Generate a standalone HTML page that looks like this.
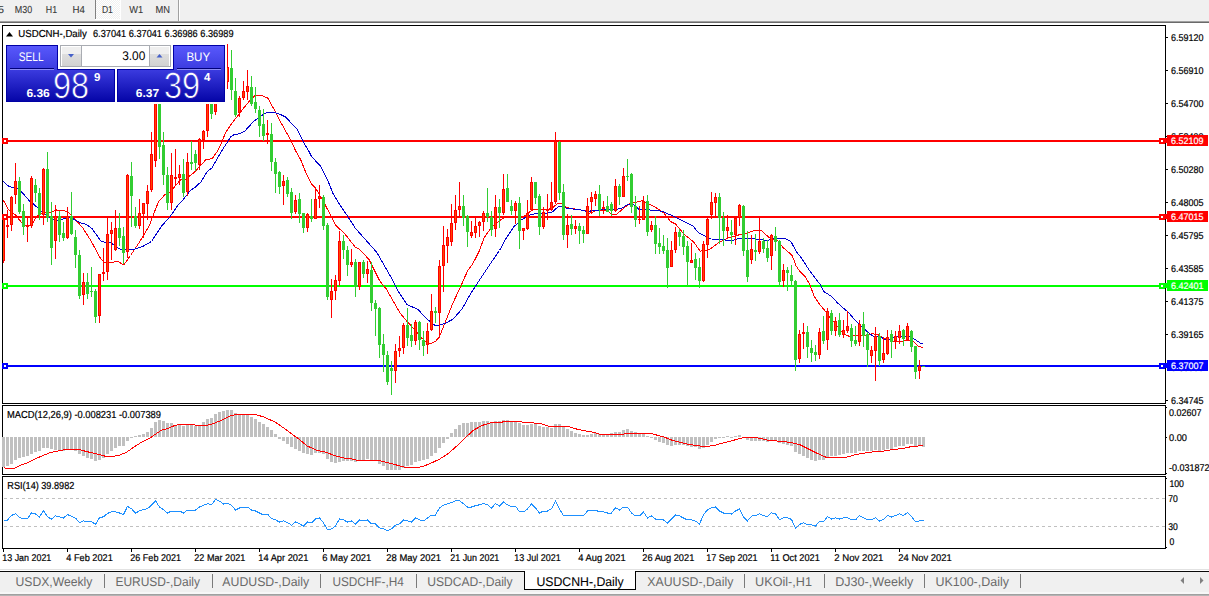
<!DOCTYPE html>
<html><head><meta charset="utf-8"><title>USDCNH-,Daily</title>
<style>html,body{margin:0;padding:0;background:#f0f0f0;overflow:hidden}svg text{white-space:pre}</style></head>
<body>
<svg width="1209" height="596" viewBox="0 0 1209 596" font-family="'Liberation Sans', sans-serif" style="display:block;text-rendering:geometricPrecision">
<defs>
<linearGradient id="gbtn" x1="0" y1="0" x2="0" y2="1"><stop offset="0" stop-color="#5858fc"/><stop offset="1" stop-color="#3c3ce0"/></linearGradient>
<linearGradient id="gprice" gradientUnits="userSpaceOnUse" x1="0" y1="69" x2="0" y2="102"><stop offset="0" stop-color="#3c3ce0"/><stop offset="1" stop-color="#0404a6"/></linearGradient>
<linearGradient id="gspin" x1="0" y1="0" x2="0" y2="1"><stop offset="0" stop-color="#dedede"/><stop offset="1" stop-color="#d2d2d2"/></linearGradient>
<pattern id="dith" width="2" height="2" patternUnits="userSpaceOnUse"><rect width="2" height="2" fill="#f0f0f0"/><rect width="1" height="1" fill="#fff"/><rect x="1" y="1" width="1" height="1" fill="#fff"/></pattern>
</defs>
<rect x="0" y="0" width="1209" height="596" fill="#f0f0f0"/>
<rect x="0" y="23" width="1209" height="547" fill="#fff"/>
<g shape-rendering="crispEdges">
<rect x="0" y="21" width="1209" height="1" fill="#a0a0a0"/>
<rect x="0" y="22" width="1209" height="1" fill="#6a6a6a"/>
<rect x="95" y="0" width="1" height="19" fill="#808080"/>
<rect x="96" y="0" width="24" height="19" fill="url(#dith)"/>
<rect x="120" y="0" width="1" height="20" fill="#fff"/>
<rect x="95" y="19" width="26" height="1" fill="#fff"/>
<rect x="178" y="0" width="1" height="21" fill="#a0a0a0"/>
<rect x="179" y="0" width="1" height="21" fill="#fff"/>
</g>
<text x="-2" y="13" font-size="10.2" fill="#383838" textLength="6" lengthAdjust="spacingAndGlyphs" stroke="#383838" stroke-width="0.1">5</text>
<text x="14.8" y="13" font-size="10.2" fill="#383838" textLength="17.4" lengthAdjust="spacingAndGlyphs" stroke="#383838" stroke-width="0.1">M30</text>
<text x="45.8" y="13" font-size="10.2" fill="#383838" textLength="11.3" lengthAdjust="spacingAndGlyphs" stroke="#383838" stroke-width="0.1">H1</text>
<text x="72.5" y="13" font-size="10.2" fill="#383838" textLength="12.4" lengthAdjust="spacingAndGlyphs" stroke="#383838" stroke-width="0.1">H4</text>
<text x="101.9" y="13" font-size="10.2" fill="#383838" textLength="11.0" lengthAdjust="spacingAndGlyphs" stroke="#383838" stroke-width="0.1">D1</text>
<text x="129.2" y="13" font-size="10.2" fill="#383838" textLength="13.9" lengthAdjust="spacingAndGlyphs" stroke="#383838" stroke-width="0.1">W1</text>
<text x="155.5" y="13" font-size="10.2" fill="#383838" textLength="14.5" lengthAdjust="spacingAndGlyphs" stroke="#383838" stroke-width="0.1">MN</text>
<g shape-rendering="crispEdges">
<rect x="2" y="25" width="1164" height="1" fill="#000"/>
<rect x="2" y="403" width="1164" height="1" fill="#000"/>
<rect x="2" y="25" width="1" height="379" fill="#000"/>
<rect x="1165" y="25" width="1" height="379" fill="#000"/>
<rect x="2" y="405" width="1164" height="1" fill="#000"/>
<rect x="2" y="474" width="1164" height="1" fill="#000"/>
<rect x="2" y="405" width="1" height="70" fill="#000"/>
<rect x="1165" y="405" width="1" height="70" fill="#000"/>
<rect x="2" y="476" width="1164" height="1" fill="#000"/>
<rect x="2" y="548" width="1164" height="1" fill="#000"/>
<rect x="2" y="476" width="1" height="73" fill="#000"/>
<rect x="1165" y="476" width="1" height="73" fill="#000"/>
<rect x="1166" y="37" width="2" height="1" fill="#000"/>
<rect x="1166" y="70" width="2" height="1" fill="#000"/>
<rect x="1166" y="103" width="2" height="1" fill="#000"/>
<rect x="1166" y="136" width="2" height="1" fill="#000"/>
<rect x="1166" y="169" width="2" height="1" fill="#000"/>
<rect x="1166" y="202" width="2" height="1" fill="#000"/>
<rect x="1166" y="235" width="2" height="1" fill="#000"/>
<rect x="1166" y="268" width="2" height="1" fill="#000"/>
<rect x="1166" y="301" width="2" height="1" fill="#000"/>
<rect x="1166" y="334" width="2" height="1" fill="#000"/>
<rect x="1166" y="367" width="2" height="1" fill="#000"/>
<rect x="1166" y="400" width="2" height="1" fill="#000"/>
<rect x="1166" y="407" width="1" height="1" fill="#000"/>
<rect x="1166" y="437" width="1" height="1" fill="#000"/>
<rect x="1166" y="473" width="1" height="1" fill="#000"/>
<rect x="1166" y="478" width="1" height="1" fill="#000"/>
<rect x="1166" y="547" width="1" height="1" fill="#000"/>
<rect x="3" y="549" width="1" height="3" fill="#000"/>
<rect x="67" y="549" width="1" height="3" fill="#000"/>
<rect x="131" y="549" width="1" height="3" fill="#000"/>
<rect x="195" y="549" width="1" height="3" fill="#000"/>
<rect x="259" y="549" width="1" height="3" fill="#000"/>
<rect x="323" y="549" width="1" height="3" fill="#000"/>
<rect x="387" y="549" width="1" height="3" fill="#000"/>
<rect x="451" y="549" width="1" height="3" fill="#000"/>
<rect x="515" y="549" width="1" height="3" fill="#000"/>
<rect x="579" y="549" width="1" height="3" fill="#000"/>
<rect x="643" y="549" width="1" height="3" fill="#000"/>
<rect x="707" y="549" width="1" height="3" fill="#000"/>
<rect x="771" y="549" width="1" height="3" fill="#000"/>
<rect x="835" y="549" width="1" height="3" fill="#000"/>
<rect x="899" y="549" width="1" height="3" fill="#000"/>
<rect x="4" y="498" width="3" height="1" fill="#c0c0c0"/>
<rect x="10" y="498" width="3" height="1" fill="#c0c0c0"/>
<rect x="16" y="498" width="3" height="1" fill="#c0c0c0"/>
<rect x="22" y="498" width="3" height="1" fill="#c0c0c0"/>
<rect x="28" y="498" width="3" height="1" fill="#c0c0c0"/>
<rect x="34" y="498" width="3" height="1" fill="#c0c0c0"/>
<rect x="40" y="498" width="3" height="1" fill="#c0c0c0"/>
<rect x="46" y="498" width="3" height="1" fill="#c0c0c0"/>
<rect x="52" y="498" width="3" height="1" fill="#c0c0c0"/>
<rect x="58" y="498" width="3" height="1" fill="#c0c0c0"/>
<rect x="64" y="498" width="3" height="1" fill="#c0c0c0"/>
<rect x="70" y="498" width="3" height="1" fill="#c0c0c0"/>
<rect x="76" y="498" width="3" height="1" fill="#c0c0c0"/>
<rect x="82" y="498" width="3" height="1" fill="#c0c0c0"/>
<rect x="88" y="498" width="3" height="1" fill="#c0c0c0"/>
<rect x="94" y="498" width="3" height="1" fill="#c0c0c0"/>
<rect x="100" y="498" width="3" height="1" fill="#c0c0c0"/>
<rect x="106" y="498" width="3" height="1" fill="#c0c0c0"/>
<rect x="112" y="498" width="3" height="1" fill="#c0c0c0"/>
<rect x="118" y="498" width="3" height="1" fill="#c0c0c0"/>
<rect x="124" y="498" width="3" height="1" fill="#c0c0c0"/>
<rect x="130" y="498" width="3" height="1" fill="#c0c0c0"/>
<rect x="136" y="498" width="3" height="1" fill="#c0c0c0"/>
<rect x="142" y="498" width="3" height="1" fill="#c0c0c0"/>
<rect x="148" y="498" width="3" height="1" fill="#c0c0c0"/>
<rect x="154" y="498" width="3" height="1" fill="#c0c0c0"/>
<rect x="160" y="498" width="3" height="1" fill="#c0c0c0"/>
<rect x="166" y="498" width="3" height="1" fill="#c0c0c0"/>
<rect x="172" y="498" width="3" height="1" fill="#c0c0c0"/>
<rect x="178" y="498" width="3" height="1" fill="#c0c0c0"/>
<rect x="184" y="498" width="3" height="1" fill="#c0c0c0"/>
<rect x="190" y="498" width="3" height="1" fill="#c0c0c0"/>
<rect x="196" y="498" width="3" height="1" fill="#c0c0c0"/>
<rect x="202" y="498" width="3" height="1" fill="#c0c0c0"/>
<rect x="208" y="498" width="3" height="1" fill="#c0c0c0"/>
<rect x="214" y="498" width="3" height="1" fill="#c0c0c0"/>
<rect x="220" y="498" width="3" height="1" fill="#c0c0c0"/>
<rect x="226" y="498" width="3" height="1" fill="#c0c0c0"/>
<rect x="232" y="498" width="3" height="1" fill="#c0c0c0"/>
<rect x="238" y="498" width="3" height="1" fill="#c0c0c0"/>
<rect x="244" y="498" width="3" height="1" fill="#c0c0c0"/>
<rect x="250" y="498" width="3" height="1" fill="#c0c0c0"/>
<rect x="256" y="498" width="3" height="1" fill="#c0c0c0"/>
<rect x="262" y="498" width="3" height="1" fill="#c0c0c0"/>
<rect x="268" y="498" width="3" height="1" fill="#c0c0c0"/>
<rect x="274" y="498" width="3" height="1" fill="#c0c0c0"/>
<rect x="280" y="498" width="3" height="1" fill="#c0c0c0"/>
<rect x="286" y="498" width="3" height="1" fill="#c0c0c0"/>
<rect x="292" y="498" width="3" height="1" fill="#c0c0c0"/>
<rect x="298" y="498" width="3" height="1" fill="#c0c0c0"/>
<rect x="304" y="498" width="3" height="1" fill="#c0c0c0"/>
<rect x="310" y="498" width="3" height="1" fill="#c0c0c0"/>
<rect x="316" y="498" width="3" height="1" fill="#c0c0c0"/>
<rect x="322" y="498" width="3" height="1" fill="#c0c0c0"/>
<rect x="328" y="498" width="3" height="1" fill="#c0c0c0"/>
<rect x="334" y="498" width="3" height="1" fill="#c0c0c0"/>
<rect x="340" y="498" width="3" height="1" fill="#c0c0c0"/>
<rect x="346" y="498" width="3" height="1" fill="#c0c0c0"/>
<rect x="352" y="498" width="3" height="1" fill="#c0c0c0"/>
<rect x="358" y="498" width="3" height="1" fill="#c0c0c0"/>
<rect x="364" y="498" width="3" height="1" fill="#c0c0c0"/>
<rect x="370" y="498" width="3" height="1" fill="#c0c0c0"/>
<rect x="376" y="498" width="3" height="1" fill="#c0c0c0"/>
<rect x="382" y="498" width="3" height="1" fill="#c0c0c0"/>
<rect x="388" y="498" width="3" height="1" fill="#c0c0c0"/>
<rect x="394" y="498" width="3" height="1" fill="#c0c0c0"/>
<rect x="400" y="498" width="3" height="1" fill="#c0c0c0"/>
<rect x="406" y="498" width="3" height="1" fill="#c0c0c0"/>
<rect x="412" y="498" width="3" height="1" fill="#c0c0c0"/>
<rect x="418" y="498" width="3" height="1" fill="#c0c0c0"/>
<rect x="424" y="498" width="3" height="1" fill="#c0c0c0"/>
<rect x="430" y="498" width="3" height="1" fill="#c0c0c0"/>
<rect x="436" y="498" width="3" height="1" fill="#c0c0c0"/>
<rect x="442" y="498" width="3" height="1" fill="#c0c0c0"/>
<rect x="448" y="498" width="3" height="1" fill="#c0c0c0"/>
<rect x="454" y="498" width="3" height="1" fill="#c0c0c0"/>
<rect x="460" y="498" width="3" height="1" fill="#c0c0c0"/>
<rect x="466" y="498" width="3" height="1" fill="#c0c0c0"/>
<rect x="472" y="498" width="3" height="1" fill="#c0c0c0"/>
<rect x="478" y="498" width="3" height="1" fill="#c0c0c0"/>
<rect x="484" y="498" width="3" height="1" fill="#c0c0c0"/>
<rect x="490" y="498" width="3" height="1" fill="#c0c0c0"/>
<rect x="496" y="498" width="3" height="1" fill="#c0c0c0"/>
<rect x="502" y="498" width="3" height="1" fill="#c0c0c0"/>
<rect x="508" y="498" width="3" height="1" fill="#c0c0c0"/>
<rect x="514" y="498" width="3" height="1" fill="#c0c0c0"/>
<rect x="520" y="498" width="3" height="1" fill="#c0c0c0"/>
<rect x="526" y="498" width="3" height="1" fill="#c0c0c0"/>
<rect x="532" y="498" width="3" height="1" fill="#c0c0c0"/>
<rect x="538" y="498" width="3" height="1" fill="#c0c0c0"/>
<rect x="544" y="498" width="3" height="1" fill="#c0c0c0"/>
<rect x="550" y="498" width="3" height="1" fill="#c0c0c0"/>
<rect x="556" y="498" width="3" height="1" fill="#c0c0c0"/>
<rect x="562" y="498" width="3" height="1" fill="#c0c0c0"/>
<rect x="568" y="498" width="3" height="1" fill="#c0c0c0"/>
<rect x="574" y="498" width="3" height="1" fill="#c0c0c0"/>
<rect x="580" y="498" width="3" height="1" fill="#c0c0c0"/>
<rect x="586" y="498" width="3" height="1" fill="#c0c0c0"/>
<rect x="592" y="498" width="3" height="1" fill="#c0c0c0"/>
<rect x="598" y="498" width="3" height="1" fill="#c0c0c0"/>
<rect x="604" y="498" width="3" height="1" fill="#c0c0c0"/>
<rect x="610" y="498" width="3" height="1" fill="#c0c0c0"/>
<rect x="616" y="498" width="3" height="1" fill="#c0c0c0"/>
<rect x="622" y="498" width="3" height="1" fill="#c0c0c0"/>
<rect x="628" y="498" width="3" height="1" fill="#c0c0c0"/>
<rect x="634" y="498" width="3" height="1" fill="#c0c0c0"/>
<rect x="640" y="498" width="3" height="1" fill="#c0c0c0"/>
<rect x="646" y="498" width="3" height="1" fill="#c0c0c0"/>
<rect x="652" y="498" width="3" height="1" fill="#c0c0c0"/>
<rect x="658" y="498" width="3" height="1" fill="#c0c0c0"/>
<rect x="664" y="498" width="3" height="1" fill="#c0c0c0"/>
<rect x="670" y="498" width="3" height="1" fill="#c0c0c0"/>
<rect x="676" y="498" width="3" height="1" fill="#c0c0c0"/>
<rect x="682" y="498" width="3" height="1" fill="#c0c0c0"/>
<rect x="688" y="498" width="3" height="1" fill="#c0c0c0"/>
<rect x="694" y="498" width="3" height="1" fill="#c0c0c0"/>
<rect x="700" y="498" width="3" height="1" fill="#c0c0c0"/>
<rect x="706" y="498" width="3" height="1" fill="#c0c0c0"/>
<rect x="712" y="498" width="3" height="1" fill="#c0c0c0"/>
<rect x="718" y="498" width="3" height="1" fill="#c0c0c0"/>
<rect x="724" y="498" width="3" height="1" fill="#c0c0c0"/>
<rect x="730" y="498" width="3" height="1" fill="#c0c0c0"/>
<rect x="736" y="498" width="3" height="1" fill="#c0c0c0"/>
<rect x="742" y="498" width="3" height="1" fill="#c0c0c0"/>
<rect x="748" y="498" width="3" height="1" fill="#c0c0c0"/>
<rect x="754" y="498" width="3" height="1" fill="#c0c0c0"/>
<rect x="760" y="498" width="3" height="1" fill="#c0c0c0"/>
<rect x="766" y="498" width="3" height="1" fill="#c0c0c0"/>
<rect x="772" y="498" width="3" height="1" fill="#c0c0c0"/>
<rect x="778" y="498" width="3" height="1" fill="#c0c0c0"/>
<rect x="784" y="498" width="3" height="1" fill="#c0c0c0"/>
<rect x="790" y="498" width="3" height="1" fill="#c0c0c0"/>
<rect x="796" y="498" width="3" height="1" fill="#c0c0c0"/>
<rect x="802" y="498" width="3" height="1" fill="#c0c0c0"/>
<rect x="808" y="498" width="3" height="1" fill="#c0c0c0"/>
<rect x="814" y="498" width="3" height="1" fill="#c0c0c0"/>
<rect x="820" y="498" width="3" height="1" fill="#c0c0c0"/>
<rect x="826" y="498" width="3" height="1" fill="#c0c0c0"/>
<rect x="832" y="498" width="3" height="1" fill="#c0c0c0"/>
<rect x="838" y="498" width="3" height="1" fill="#c0c0c0"/>
<rect x="844" y="498" width="3" height="1" fill="#c0c0c0"/>
<rect x="850" y="498" width="3" height="1" fill="#c0c0c0"/>
<rect x="856" y="498" width="3" height="1" fill="#c0c0c0"/>
<rect x="862" y="498" width="3" height="1" fill="#c0c0c0"/>
<rect x="868" y="498" width="3" height="1" fill="#c0c0c0"/>
<rect x="874" y="498" width="3" height="1" fill="#c0c0c0"/>
<rect x="880" y="498" width="3" height="1" fill="#c0c0c0"/>
<rect x="886" y="498" width="3" height="1" fill="#c0c0c0"/>
<rect x="892" y="498" width="3" height="1" fill="#c0c0c0"/>
<rect x="898" y="498" width="3" height="1" fill="#c0c0c0"/>
<rect x="904" y="498" width="3" height="1" fill="#c0c0c0"/>
<rect x="910" y="498" width="3" height="1" fill="#c0c0c0"/>
<rect x="916" y="498" width="3" height="1" fill="#c0c0c0"/>
<rect x="922" y="498" width="3" height="1" fill="#c0c0c0"/>
<rect x="928" y="498" width="3" height="1" fill="#c0c0c0"/>
<rect x="934" y="498" width="3" height="1" fill="#c0c0c0"/>
<rect x="940" y="498" width="3" height="1" fill="#c0c0c0"/>
<rect x="946" y="498" width="3" height="1" fill="#c0c0c0"/>
<rect x="952" y="498" width="3" height="1" fill="#c0c0c0"/>
<rect x="958" y="498" width="3" height="1" fill="#c0c0c0"/>
<rect x="964" y="498" width="3" height="1" fill="#c0c0c0"/>
<rect x="970" y="498" width="3" height="1" fill="#c0c0c0"/>
<rect x="976" y="498" width="3" height="1" fill="#c0c0c0"/>
<rect x="982" y="498" width="3" height="1" fill="#c0c0c0"/>
<rect x="988" y="498" width="3" height="1" fill="#c0c0c0"/>
<rect x="994" y="498" width="3" height="1" fill="#c0c0c0"/>
<rect x="1000" y="498" width="3" height="1" fill="#c0c0c0"/>
<rect x="1006" y="498" width="3" height="1" fill="#c0c0c0"/>
<rect x="1012" y="498" width="3" height="1" fill="#c0c0c0"/>
<rect x="1018" y="498" width="3" height="1" fill="#c0c0c0"/>
<rect x="1024" y="498" width="3" height="1" fill="#c0c0c0"/>
<rect x="1030" y="498" width="3" height="1" fill="#c0c0c0"/>
<rect x="1036" y="498" width="3" height="1" fill="#c0c0c0"/>
<rect x="1042" y="498" width="3" height="1" fill="#c0c0c0"/>
<rect x="1048" y="498" width="3" height="1" fill="#c0c0c0"/>
<rect x="1054" y="498" width="3" height="1" fill="#c0c0c0"/>
<rect x="1060" y="498" width="3" height="1" fill="#c0c0c0"/>
<rect x="1066" y="498" width="3" height="1" fill="#c0c0c0"/>
<rect x="1072" y="498" width="3" height="1" fill="#c0c0c0"/>
<rect x="1078" y="498" width="3" height="1" fill="#c0c0c0"/>
<rect x="1084" y="498" width="3" height="1" fill="#c0c0c0"/>
<rect x="1090" y="498" width="3" height="1" fill="#c0c0c0"/>
<rect x="1096" y="498" width="3" height="1" fill="#c0c0c0"/>
<rect x="1102" y="498" width="3" height="1" fill="#c0c0c0"/>
<rect x="1108" y="498" width="3" height="1" fill="#c0c0c0"/>
<rect x="1114" y="498" width="3" height="1" fill="#c0c0c0"/>
<rect x="1120" y="498" width="3" height="1" fill="#c0c0c0"/>
<rect x="1126" y="498" width="3" height="1" fill="#c0c0c0"/>
<rect x="1132" y="498" width="3" height="1" fill="#c0c0c0"/>
<rect x="1138" y="498" width="3" height="1" fill="#c0c0c0"/>
<rect x="1144" y="498" width="3" height="1" fill="#c0c0c0"/>
<rect x="1150" y="498" width="3" height="1" fill="#c0c0c0"/>
<rect x="1156" y="498" width="3" height="1" fill="#c0c0c0"/>
<rect x="1162" y="498" width="3" height="1" fill="#c0c0c0"/>
<rect x="4" y="526" width="3" height="1" fill="#c0c0c0"/>
<rect x="10" y="526" width="3" height="1" fill="#c0c0c0"/>
<rect x="16" y="526" width="3" height="1" fill="#c0c0c0"/>
<rect x="22" y="526" width="3" height="1" fill="#c0c0c0"/>
<rect x="28" y="526" width="3" height="1" fill="#c0c0c0"/>
<rect x="34" y="526" width="3" height="1" fill="#c0c0c0"/>
<rect x="40" y="526" width="3" height="1" fill="#c0c0c0"/>
<rect x="46" y="526" width="3" height="1" fill="#c0c0c0"/>
<rect x="52" y="526" width="3" height="1" fill="#c0c0c0"/>
<rect x="58" y="526" width="3" height="1" fill="#c0c0c0"/>
<rect x="64" y="526" width="3" height="1" fill="#c0c0c0"/>
<rect x="70" y="526" width="3" height="1" fill="#c0c0c0"/>
<rect x="76" y="526" width="3" height="1" fill="#c0c0c0"/>
<rect x="82" y="526" width="3" height="1" fill="#c0c0c0"/>
<rect x="88" y="526" width="3" height="1" fill="#c0c0c0"/>
<rect x="94" y="526" width="3" height="1" fill="#c0c0c0"/>
<rect x="100" y="526" width="3" height="1" fill="#c0c0c0"/>
<rect x="106" y="526" width="3" height="1" fill="#c0c0c0"/>
<rect x="112" y="526" width="3" height="1" fill="#c0c0c0"/>
<rect x="118" y="526" width="3" height="1" fill="#c0c0c0"/>
<rect x="124" y="526" width="3" height="1" fill="#c0c0c0"/>
<rect x="130" y="526" width="3" height="1" fill="#c0c0c0"/>
<rect x="136" y="526" width="3" height="1" fill="#c0c0c0"/>
<rect x="142" y="526" width="3" height="1" fill="#c0c0c0"/>
<rect x="148" y="526" width="3" height="1" fill="#c0c0c0"/>
<rect x="154" y="526" width="3" height="1" fill="#c0c0c0"/>
<rect x="160" y="526" width="3" height="1" fill="#c0c0c0"/>
<rect x="166" y="526" width="3" height="1" fill="#c0c0c0"/>
<rect x="172" y="526" width="3" height="1" fill="#c0c0c0"/>
<rect x="178" y="526" width="3" height="1" fill="#c0c0c0"/>
<rect x="184" y="526" width="3" height="1" fill="#c0c0c0"/>
<rect x="190" y="526" width="3" height="1" fill="#c0c0c0"/>
<rect x="196" y="526" width="3" height="1" fill="#c0c0c0"/>
<rect x="202" y="526" width="3" height="1" fill="#c0c0c0"/>
<rect x="208" y="526" width="3" height="1" fill="#c0c0c0"/>
<rect x="214" y="526" width="3" height="1" fill="#c0c0c0"/>
<rect x="220" y="526" width="3" height="1" fill="#c0c0c0"/>
<rect x="226" y="526" width="3" height="1" fill="#c0c0c0"/>
<rect x="232" y="526" width="3" height="1" fill="#c0c0c0"/>
<rect x="238" y="526" width="3" height="1" fill="#c0c0c0"/>
<rect x="244" y="526" width="3" height="1" fill="#c0c0c0"/>
<rect x="250" y="526" width="3" height="1" fill="#c0c0c0"/>
<rect x="256" y="526" width="3" height="1" fill="#c0c0c0"/>
<rect x="262" y="526" width="3" height="1" fill="#c0c0c0"/>
<rect x="268" y="526" width="3" height="1" fill="#c0c0c0"/>
<rect x="274" y="526" width="3" height="1" fill="#c0c0c0"/>
<rect x="280" y="526" width="3" height="1" fill="#c0c0c0"/>
<rect x="286" y="526" width="3" height="1" fill="#c0c0c0"/>
<rect x="292" y="526" width="3" height="1" fill="#c0c0c0"/>
<rect x="298" y="526" width="3" height="1" fill="#c0c0c0"/>
<rect x="304" y="526" width="3" height="1" fill="#c0c0c0"/>
<rect x="310" y="526" width="3" height="1" fill="#c0c0c0"/>
<rect x="316" y="526" width="3" height="1" fill="#c0c0c0"/>
<rect x="322" y="526" width="3" height="1" fill="#c0c0c0"/>
<rect x="328" y="526" width="3" height="1" fill="#c0c0c0"/>
<rect x="334" y="526" width="3" height="1" fill="#c0c0c0"/>
<rect x="340" y="526" width="3" height="1" fill="#c0c0c0"/>
<rect x="346" y="526" width="3" height="1" fill="#c0c0c0"/>
<rect x="352" y="526" width="3" height="1" fill="#c0c0c0"/>
<rect x="358" y="526" width="3" height="1" fill="#c0c0c0"/>
<rect x="364" y="526" width="3" height="1" fill="#c0c0c0"/>
<rect x="370" y="526" width="3" height="1" fill="#c0c0c0"/>
<rect x="376" y="526" width="3" height="1" fill="#c0c0c0"/>
<rect x="382" y="526" width="3" height="1" fill="#c0c0c0"/>
<rect x="388" y="526" width="3" height="1" fill="#c0c0c0"/>
<rect x="394" y="526" width="3" height="1" fill="#c0c0c0"/>
<rect x="400" y="526" width="3" height="1" fill="#c0c0c0"/>
<rect x="406" y="526" width="3" height="1" fill="#c0c0c0"/>
<rect x="412" y="526" width="3" height="1" fill="#c0c0c0"/>
<rect x="418" y="526" width="3" height="1" fill="#c0c0c0"/>
<rect x="424" y="526" width="3" height="1" fill="#c0c0c0"/>
<rect x="430" y="526" width="3" height="1" fill="#c0c0c0"/>
<rect x="436" y="526" width="3" height="1" fill="#c0c0c0"/>
<rect x="442" y="526" width="3" height="1" fill="#c0c0c0"/>
<rect x="448" y="526" width="3" height="1" fill="#c0c0c0"/>
<rect x="454" y="526" width="3" height="1" fill="#c0c0c0"/>
<rect x="460" y="526" width="3" height="1" fill="#c0c0c0"/>
<rect x="466" y="526" width="3" height="1" fill="#c0c0c0"/>
<rect x="472" y="526" width="3" height="1" fill="#c0c0c0"/>
<rect x="478" y="526" width="3" height="1" fill="#c0c0c0"/>
<rect x="484" y="526" width="3" height="1" fill="#c0c0c0"/>
<rect x="490" y="526" width="3" height="1" fill="#c0c0c0"/>
<rect x="496" y="526" width="3" height="1" fill="#c0c0c0"/>
<rect x="502" y="526" width="3" height="1" fill="#c0c0c0"/>
<rect x="508" y="526" width="3" height="1" fill="#c0c0c0"/>
<rect x="514" y="526" width="3" height="1" fill="#c0c0c0"/>
<rect x="520" y="526" width="3" height="1" fill="#c0c0c0"/>
<rect x="526" y="526" width="3" height="1" fill="#c0c0c0"/>
<rect x="532" y="526" width="3" height="1" fill="#c0c0c0"/>
<rect x="538" y="526" width="3" height="1" fill="#c0c0c0"/>
<rect x="544" y="526" width="3" height="1" fill="#c0c0c0"/>
<rect x="550" y="526" width="3" height="1" fill="#c0c0c0"/>
<rect x="556" y="526" width="3" height="1" fill="#c0c0c0"/>
<rect x="562" y="526" width="3" height="1" fill="#c0c0c0"/>
<rect x="568" y="526" width="3" height="1" fill="#c0c0c0"/>
<rect x="574" y="526" width="3" height="1" fill="#c0c0c0"/>
<rect x="580" y="526" width="3" height="1" fill="#c0c0c0"/>
<rect x="586" y="526" width="3" height="1" fill="#c0c0c0"/>
<rect x="592" y="526" width="3" height="1" fill="#c0c0c0"/>
<rect x="598" y="526" width="3" height="1" fill="#c0c0c0"/>
<rect x="604" y="526" width="3" height="1" fill="#c0c0c0"/>
<rect x="610" y="526" width="3" height="1" fill="#c0c0c0"/>
<rect x="616" y="526" width="3" height="1" fill="#c0c0c0"/>
<rect x="622" y="526" width="3" height="1" fill="#c0c0c0"/>
<rect x="628" y="526" width="3" height="1" fill="#c0c0c0"/>
<rect x="634" y="526" width="3" height="1" fill="#c0c0c0"/>
<rect x="640" y="526" width="3" height="1" fill="#c0c0c0"/>
<rect x="646" y="526" width="3" height="1" fill="#c0c0c0"/>
<rect x="652" y="526" width="3" height="1" fill="#c0c0c0"/>
<rect x="658" y="526" width="3" height="1" fill="#c0c0c0"/>
<rect x="664" y="526" width="3" height="1" fill="#c0c0c0"/>
<rect x="670" y="526" width="3" height="1" fill="#c0c0c0"/>
<rect x="676" y="526" width="3" height="1" fill="#c0c0c0"/>
<rect x="682" y="526" width="3" height="1" fill="#c0c0c0"/>
<rect x="688" y="526" width="3" height="1" fill="#c0c0c0"/>
<rect x="694" y="526" width="3" height="1" fill="#c0c0c0"/>
<rect x="700" y="526" width="3" height="1" fill="#c0c0c0"/>
<rect x="706" y="526" width="3" height="1" fill="#c0c0c0"/>
<rect x="712" y="526" width="3" height="1" fill="#c0c0c0"/>
<rect x="718" y="526" width="3" height="1" fill="#c0c0c0"/>
<rect x="724" y="526" width="3" height="1" fill="#c0c0c0"/>
<rect x="730" y="526" width="3" height="1" fill="#c0c0c0"/>
<rect x="736" y="526" width="3" height="1" fill="#c0c0c0"/>
<rect x="742" y="526" width="3" height="1" fill="#c0c0c0"/>
<rect x="748" y="526" width="3" height="1" fill="#c0c0c0"/>
<rect x="754" y="526" width="3" height="1" fill="#c0c0c0"/>
<rect x="760" y="526" width="3" height="1" fill="#c0c0c0"/>
<rect x="766" y="526" width="3" height="1" fill="#c0c0c0"/>
<rect x="772" y="526" width="3" height="1" fill="#c0c0c0"/>
<rect x="778" y="526" width="3" height="1" fill="#c0c0c0"/>
<rect x="784" y="526" width="3" height="1" fill="#c0c0c0"/>
<rect x="790" y="526" width="3" height="1" fill="#c0c0c0"/>
<rect x="796" y="526" width="3" height="1" fill="#c0c0c0"/>
<rect x="802" y="526" width="3" height="1" fill="#c0c0c0"/>
<rect x="808" y="526" width="3" height="1" fill="#c0c0c0"/>
<rect x="814" y="526" width="3" height="1" fill="#c0c0c0"/>
<rect x="820" y="526" width="3" height="1" fill="#c0c0c0"/>
<rect x="826" y="526" width="3" height="1" fill="#c0c0c0"/>
<rect x="832" y="526" width="3" height="1" fill="#c0c0c0"/>
<rect x="838" y="526" width="3" height="1" fill="#c0c0c0"/>
<rect x="844" y="526" width="3" height="1" fill="#c0c0c0"/>
<rect x="850" y="526" width="3" height="1" fill="#c0c0c0"/>
<rect x="856" y="526" width="3" height="1" fill="#c0c0c0"/>
<rect x="862" y="526" width="3" height="1" fill="#c0c0c0"/>
<rect x="868" y="526" width="3" height="1" fill="#c0c0c0"/>
<rect x="874" y="526" width="3" height="1" fill="#c0c0c0"/>
<rect x="880" y="526" width="3" height="1" fill="#c0c0c0"/>
<rect x="886" y="526" width="3" height="1" fill="#c0c0c0"/>
<rect x="892" y="526" width="3" height="1" fill="#c0c0c0"/>
<rect x="898" y="526" width="3" height="1" fill="#c0c0c0"/>
<rect x="904" y="526" width="3" height="1" fill="#c0c0c0"/>
<rect x="910" y="526" width="3" height="1" fill="#c0c0c0"/>
<rect x="916" y="526" width="3" height="1" fill="#c0c0c0"/>
<rect x="922" y="526" width="3" height="1" fill="#c0c0c0"/>
<rect x="928" y="526" width="3" height="1" fill="#c0c0c0"/>
<rect x="934" y="526" width="3" height="1" fill="#c0c0c0"/>
<rect x="940" y="526" width="3" height="1" fill="#c0c0c0"/>
<rect x="946" y="526" width="3" height="1" fill="#c0c0c0"/>
<rect x="952" y="526" width="3" height="1" fill="#c0c0c0"/>
<rect x="958" y="526" width="3" height="1" fill="#c0c0c0"/>
<rect x="964" y="526" width="3" height="1" fill="#c0c0c0"/>
<rect x="970" y="526" width="3" height="1" fill="#c0c0c0"/>
<rect x="976" y="526" width="3" height="1" fill="#c0c0c0"/>
<rect x="982" y="526" width="3" height="1" fill="#c0c0c0"/>
<rect x="988" y="526" width="3" height="1" fill="#c0c0c0"/>
<rect x="994" y="526" width="3" height="1" fill="#c0c0c0"/>
<rect x="1000" y="526" width="3" height="1" fill="#c0c0c0"/>
<rect x="1006" y="526" width="3" height="1" fill="#c0c0c0"/>
<rect x="1012" y="526" width="3" height="1" fill="#c0c0c0"/>
<rect x="1018" y="526" width="3" height="1" fill="#c0c0c0"/>
<rect x="1024" y="526" width="3" height="1" fill="#c0c0c0"/>
<rect x="1030" y="526" width="3" height="1" fill="#c0c0c0"/>
<rect x="1036" y="526" width="3" height="1" fill="#c0c0c0"/>
<rect x="1042" y="526" width="3" height="1" fill="#c0c0c0"/>
<rect x="1048" y="526" width="3" height="1" fill="#c0c0c0"/>
<rect x="1054" y="526" width="3" height="1" fill="#c0c0c0"/>
<rect x="1060" y="526" width="3" height="1" fill="#c0c0c0"/>
<rect x="1066" y="526" width="3" height="1" fill="#c0c0c0"/>
<rect x="1072" y="526" width="3" height="1" fill="#c0c0c0"/>
<rect x="1078" y="526" width="3" height="1" fill="#c0c0c0"/>
<rect x="1084" y="526" width="3" height="1" fill="#c0c0c0"/>
<rect x="1090" y="526" width="3" height="1" fill="#c0c0c0"/>
<rect x="1096" y="526" width="3" height="1" fill="#c0c0c0"/>
<rect x="1102" y="526" width="3" height="1" fill="#c0c0c0"/>
<rect x="1108" y="526" width="3" height="1" fill="#c0c0c0"/>
<rect x="1114" y="526" width="3" height="1" fill="#c0c0c0"/>
<rect x="1120" y="526" width="3" height="1" fill="#c0c0c0"/>
<rect x="1126" y="526" width="3" height="1" fill="#c0c0c0"/>
<rect x="1132" y="526" width="3" height="1" fill="#c0c0c0"/>
<rect x="1138" y="526" width="3" height="1" fill="#c0c0c0"/>
<rect x="1144" y="526" width="3" height="1" fill="#c0c0c0"/>
<rect x="1150" y="526" width="3" height="1" fill="#c0c0c0"/>
<rect x="1156" y="526" width="3" height="1" fill="#c0c0c0"/>
<rect x="1162" y="526" width="3" height="1" fill="#c0c0c0"/>
<rect x="3" y="140" width="1162" height="2" fill="#ff0000"/>
<rect x="2" y="138" width="6" height="6" fill="#ff0000"/>
<rect x="4" y="140" width="2" height="2" fill="#fff"/>
<rect x="1159" y="138" width="6" height="6" fill="#ff0000"/>
<rect x="1161" y="140" width="2" height="2" fill="#fff"/>
<rect x="3" y="216" width="1162" height="2" fill="#ff0000"/>
<rect x="2" y="214" width="6" height="6" fill="#ff0000"/>
<rect x="4" y="216" width="2" height="2" fill="#fff"/>
<rect x="1159" y="214" width="6" height="6" fill="#ff0000"/>
<rect x="1161" y="216" width="2" height="2" fill="#fff"/>
<rect x="3" y="285" width="1162" height="2" fill="#00ff00"/>
<rect x="2" y="283" width="6" height="6" fill="#00ff00"/>
<rect x="4" y="285" width="2" height="2" fill="#fff"/>
<rect x="1159" y="283" width="6" height="6" fill="#00ff00"/>
<rect x="1161" y="285" width="2" height="2" fill="#fff"/>
<rect x="3" y="365" width="1162" height="2" fill="#0000ff"/>
<rect x="2" y="363" width="6" height="6" fill="#0000ff"/>
<rect x="4" y="365" width="2" height="2" fill="#fff"/>
<rect x="1159" y="363" width="6" height="6" fill="#0000ff"/>
<rect x="1161" y="365" width="2" height="2" fill="#fff"/>
</g>
<clipPath id="cmain"><rect x="3" y="26" width="1162" height="377"/></clipPath>
<g clip-path="url(#cmain)">
<polyline points="3.5,200.5 8.1,209.2 15.5,215.0 22.3,223.5 28.2,226.8 33.2,222.5 36.5,216.5 42.5,212.5 50.5,212.5 56.5,210.0 64.5,210.8 68.5,212.8 74.5,218.5 82.5,227.5 91.1,241.0 100.5,258.5 104.5,262.5 110.5,262.5 117.9,261.5 123.8,264.9 130.5,255.5 140.5,240.5 149.5,225.5 151.5,219.5 158.2,202.5 159.3,200.5 164.8,194.9 167.8,194.4 172.9,188.8 180.9,179.3 186.0,179.3 190.0,175.7 195.0,171.7 201.1,164.7 206.1,159.6 212.1,158.6 217.2,151.6 221.2,143.5 225.5,132.8 231.5,123.8 238.6,114.7 245.6,105.6 250.7,99.6 255.7,95.1 260.7,95.1 267.8,98.1 270.8,103.6 274.8,110.7 279.9,120.7 284.9,129.8 290.0,138.9 293.0,144.9 295.5,150.5 300.8,159.9 306.1,173.3 311.5,184.1 315.5,188.1 319.5,194.8 324.9,204.2 330.3,214.9 335.0,224.3 340.4,229.7 344.8,233.9 355.5,247.3 359.5,249.4 369.0,259.4 374.3,270.2 379.7,280.9 386.4,289.0 393.7,302.0 399.8,312.7 407.1,321.5 413.9,328.8 421.9,338.2 428.6,344.3 435.3,341.6 439.4,336.9 444.7,323.5 452.8,303.3 460.2,287.6 464.8,277.0 467.8,270.6 472.9,263.6 479.5,250.5 484.2,237.6 490.9,228.2 494.9,224.2 500.3,220.2 505.7,216.8 524.5,216.1 529.8,211.8 533.9,209.7 548.5,209.5 554.0,206.7 557.3,203.5 562.0,203.8 566.1,207.5 578.2,209.5 586.2,210.8 588.5,213.5 597.9,210.1 607.3,210.8 612.0,214.8 616.1,214.8 622.1,209.5 628.8,204.1 636.9,202.0 642.2,200.7 649.0,204.1 655.7,207.5 663.7,212.8 670.5,221.5 675.8,224.2 681.2,230.9 686.5,236.3 693.3,241.6 700.2,251.1 709.0,249.8 718.5,242.8 728.0,238.1 737.1,235.3 746.5,233.3 754.5,230.6 761.3,230.6 769.5,237.9 777.5,240.6 782.8,247.3 792.2,255.5 796.2,266.1 800.5,272.2 804.7,275.9 809.5,283.9 814.1,296.0 819.5,304.1 826.1,312.1 830.2,318.2 835.5,323.5 839.5,329.5 844.9,334.3 849.0,336.3 859.5,335.6 866.5,335.6 871.8,333.6 878.5,334.9 882.5,337.6 887.9,339.0 894.5,341.6 901.3,341.6 908.0,340.3 913.5,341.6 917.5,345.7 923.5,348.1" fill="none" stroke="#ff0000" stroke-width="1" shape-rendering="crispEdges"/>
<polyline points="3.5,181.5 8.9,186.5 14.8,188.2 19.0,189.0 25.7,196.5 29.9,201.5 34.1,204.5 39.9,210.0 44.1,213.9 50.8,218.5 58.5,220.5 64.5,218.5 71.0,217.5 79.5,222.5 86.1,224.3 91.9,228.5 101.2,241.5 111.2,243.1 119.5,249.0 133.0,249.8 142.5,246.5 151.5,241.5 161.5,226.1 170.0,216.8 178.5,204.3 182.9,199.9 190.0,190.9 195.0,187.3 201.1,181.8 207.1,171.7 212.1,167.7 217.2,158.6 221.2,151.6 227.2,142.5 230.5,136.9 234.6,134.3 239.6,133.8 244.6,131.3 248.7,126.8 253.7,121.2 258.7,117.7 263.8,114.2 267.8,112.2 273.8,112.2 279.9,114.2 285.9,117.2 291.0,122.8 297.0,128.8 300.0,134.8 303.0,140.9 305.1,144.9 308.5,150.5 311.5,156.5 320.9,166.6 327.6,180.0 333.0,193.5 338.5,202.8 347.7,216.3 355.5,228.5 366.3,240.6 377.0,252.7 385.1,266.8 394.5,283.6 397.7,290.6 407.1,304.7 417.9,309.4 427.3,319.4 436.0,326.1 444.7,323.5 452.8,319.4 462.2,308.7 470.5,293.9 480.5,278.5 490.5,263.5 499.5,250.5 505.7,239.0 513.7,226.9 521.8,219.5 529.8,215.1 535.2,213.7 545.9,213.7 552.5,211.8 558.0,207.0 562.7,206.5 567.5,208.5 578.2,209.5 587.2,211.4 597.9,210.1 611.5,209.4 620.8,208.8 627.5,204.7 633.5,204.7 639.5,209.7 653.0,210.1 662.5,211.4 673.1,216.1 682.5,220.8 693.3,226.2 698.5,232.9 706.7,236.9 710.7,239.0 722.8,239.2 728.2,241.0 733.5,240.3 738.5,238.6 755.9,239.0 766.7,240.6 774.7,238.6 785.5,238.6 790.8,241.3 796.2,251.5 800.5,256.7 809.5,270.5 815.5,278.6 820.8,285.3 823.5,291.3 830.8,296.0 838.2,303.5 844.9,309.5 849.0,312.8 854.3,319.5 859.7,324.9 866.5,330.9 873.1,336.3 879.8,336.3 884.5,339.2 890.5,339.2 895.9,336.9 909.5,336.9 914.7,339.2 920.1,343.0 923.5,344.1" fill="none" stroke="#0000cd" stroke-width="1" shape-rendering="crispEdges"/>
<g shape-rendering="crispEdges">
<rect x="3" y="215" width="1" height="48" fill="#ff0000"/>
<rect x="2" y="219" width="3" height="42" fill="#ff0000"/>
<rect x="3" y="220" width="1" height="40" fill="#ff4500"/>
<rect x="7" y="210" width="1" height="28" fill="#ff0000"/>
<rect x="6" y="225" width="3" height="2" fill="#ff0000"/>
<rect x="11" y="196" width="1" height="35" fill="#ff0000"/>
<rect x="10" y="197" width="3" height="28" fill="#ff0000"/>
<rect x="11" y="198" width="1" height="26" fill="#ff4500"/>
<rect x="15" y="163" width="1" height="41" fill="#ff0000"/>
<rect x="14" y="181" width="3" height="14" fill="#ff0000"/>
<rect x="15" y="182" width="1" height="12" fill="#ff4500"/>
<rect x="19" y="177" width="1" height="37" fill="#32cd32"/>
<rect x="18" y="181" width="3" height="31" fill="#32cd32"/>
<rect x="23" y="204" width="1" height="31" fill="#32cd32"/>
<rect x="22" y="211" width="3" height="16" fill="#32cd32"/>
<rect x="27" y="217" width="1" height="25" fill="#ff0000"/>
<rect x="26" y="225" width="3" height="2" fill="#ff0000"/>
<rect x="31" y="176" width="1" height="52" fill="#ff0000"/>
<rect x="30" y="178" width="3" height="48" fill="#ff0000"/>
<rect x="31" y="179" width="1" height="46" fill="#ff4500"/>
<rect x="35" y="179" width="1" height="23" fill="#32cd32"/>
<rect x="34" y="185" width="3" height="8" fill="#32cd32"/>
<rect x="39" y="188" width="1" height="32" fill="#32cd32"/>
<rect x="38" y="193" width="3" height="22" fill="#32cd32"/>
<rect x="43" y="168" width="1" height="57" fill="#ff0000"/>
<rect x="42" y="169" width="3" height="46" fill="#ff0000"/>
<rect x="43" y="170" width="1" height="44" fill="#ff4500"/>
<rect x="47" y="152" width="1" height="70" fill="#32cd32"/>
<rect x="46" y="169" width="3" height="49" fill="#32cd32"/>
<rect x="51" y="202" width="1" height="63" fill="#32cd32"/>
<rect x="50" y="216" width="3" height="32" fill="#32cd32"/>
<rect x="55" y="205" width="1" height="54" fill="#ff0000"/>
<rect x="54" y="216" width="3" height="25" fill="#ff0000"/>
<rect x="55" y="217" width="1" height="23" fill="#ff4500"/>
<rect x="59" y="211" width="1" height="31" fill="#32cd32"/>
<rect x="58" y="216" width="3" height="19" fill="#32cd32"/>
<rect x="63" y="222" width="1" height="19" fill="#32cd32"/>
<rect x="62" y="233" width="3" height="5" fill="#32cd32"/>
<rect x="67" y="207" width="1" height="32" fill="#ff0000"/>
<rect x="66" y="216" width="3" height="22" fill="#ff0000"/>
<rect x="67" y="217" width="1" height="20" fill="#ff4500"/>
<rect x="71" y="192" width="1" height="43" fill="#32cd32"/>
<rect x="70" y="216" width="3" height="18" fill="#32cd32"/>
<rect x="75" y="230" width="1" height="38" fill="#32cd32"/>
<rect x="74" y="237" width="3" height="18" fill="#32cd32"/>
<rect x="79" y="250" width="1" height="49" fill="#32cd32"/>
<rect x="78" y="255" width="3" height="41" fill="#32cd32"/>
<rect x="83" y="273" width="1" height="32" fill="#ff0000"/>
<rect x="82" y="282" width="3" height="13" fill="#ff0000"/>
<rect x="83" y="283" width="1" height="11" fill="#ff4500"/>
<rect x="87" y="273" width="1" height="26" fill="#32cd32"/>
<rect x="86" y="282" width="3" height="12" fill="#32cd32"/>
<rect x="91" y="267" width="1" height="30" fill="#32cd32"/>
<rect x="90" y="291" width="3" height="1" fill="#32cd32"/>
<rect x="95" y="289" width="1" height="34" fill="#32cd32"/>
<rect x="94" y="291" width="3" height="26" fill="#32cd32"/>
<rect x="99" y="274" width="1" height="49" fill="#ff0000"/>
<rect x="98" y="274" width="3" height="42" fill="#ff0000"/>
<rect x="99" y="275" width="1" height="40" fill="#ff4500"/>
<rect x="103" y="248" width="1" height="33" fill="#ff0000"/>
<rect x="102" y="272" width="3" height="2" fill="#ff0000"/>
<rect x="107" y="217" width="1" height="63" fill="#ff0000"/>
<rect x="106" y="234" width="3" height="38" fill="#ff0000"/>
<rect x="107" y="235" width="1" height="36" fill="#ff4500"/>
<rect x="111" y="222" width="1" height="38" fill="#ff0000"/>
<rect x="110" y="230" width="3" height="4" fill="#ff0000"/>
<rect x="111" y="231" width="1" height="2" fill="#ff4500"/>
<rect x="115" y="210" width="1" height="41" fill="#ff0000"/>
<rect x="114" y="228" width="3" height="22" fill="#ff0000"/>
<rect x="115" y="229" width="1" height="20" fill="#ff4500"/>
<rect x="119" y="213" width="1" height="33" fill="#32cd32"/>
<rect x="118" y="228" width="3" height="10" fill="#32cd32"/>
<rect x="123" y="227" width="1" height="37" fill="#32cd32"/>
<rect x="122" y="236" width="3" height="17" fill="#32cd32"/>
<rect x="127" y="174" width="1" height="84" fill="#ff0000"/>
<rect x="126" y="175" width="3" height="77" fill="#ff0000"/>
<rect x="127" y="176" width="1" height="75" fill="#ff4500"/>
<rect x="131" y="162" width="1" height="65" fill="#32cd32"/>
<rect x="130" y="176" width="3" height="20" fill="#32cd32"/>
<rect x="135" y="207" width="1" height="21" fill="#32cd32"/>
<rect x="134" y="216" width="3" height="10" fill="#32cd32"/>
<rect x="139" y="199" width="1" height="30" fill="#ff0000"/>
<rect x="138" y="213" width="3" height="13" fill="#ff0000"/>
<rect x="139" y="214" width="1" height="11" fill="#ff4500"/>
<rect x="143" y="203" width="1" height="35" fill="#ff0000"/>
<rect x="142" y="203" width="3" height="11" fill="#ff0000"/>
<rect x="143" y="204" width="1" height="9" fill="#ff4500"/>
<rect x="147" y="185" width="1" height="35" fill="#ff0000"/>
<rect x="146" y="191" width="3" height="13" fill="#ff0000"/>
<rect x="147" y="192" width="1" height="11" fill="#ff4500"/>
<rect x="151" y="132" width="1" height="60" fill="#ff0000"/>
<rect x="150" y="154" width="3" height="36" fill="#ff0000"/>
<rect x="151" y="155" width="1" height="34" fill="#ff4500"/>
<rect x="155" y="95" width="1" height="72" fill="#ff0000"/>
<rect x="154" y="96" width="3" height="65" fill="#ff0000"/>
<rect x="155" y="97" width="1" height="63" fill="#ff4500"/>
<rect x="159" y="95" width="1" height="64" fill="#32cd32"/>
<rect x="158" y="96" width="3" height="51" fill="#32cd32"/>
<rect x="163" y="132" width="1" height="53" fill="#32cd32"/>
<rect x="162" y="145" width="3" height="30" fill="#32cd32"/>
<rect x="167" y="167" width="1" height="43" fill="#32cd32"/>
<rect x="166" y="175" width="3" height="28" fill="#32cd32"/>
<rect x="171" y="153" width="1" height="57" fill="#ff0000"/>
<rect x="170" y="175" width="3" height="28" fill="#ff0000"/>
<rect x="171" y="176" width="1" height="26" fill="#ff4500"/>
<rect x="175" y="149" width="1" height="36" fill="#ff0000"/>
<rect x="174" y="177" width="3" height="2" fill="#ff0000"/>
<rect x="179" y="165" width="1" height="20" fill="#ff0000"/>
<rect x="178" y="174" width="3" height="4" fill="#ff0000"/>
<rect x="179" y="175" width="1" height="2" fill="#ff4500"/>
<rect x="183" y="159" width="1" height="38" fill="#32cd32"/>
<rect x="182" y="174" width="3" height="19" fill="#32cd32"/>
<rect x="187" y="153" width="1" height="43" fill="#ff0000"/>
<rect x="186" y="162" width="3" height="30" fill="#ff0000"/>
<rect x="187" y="163" width="1" height="28" fill="#ff4500"/>
<rect x="191" y="141" width="1" height="29" fill="#32cd32"/>
<rect x="190" y="162" width="3" height="2" fill="#32cd32"/>
<rect x="195" y="150" width="1" height="21" fill="#32cd32"/>
<rect x="194" y="154" width="3" height="9" fill="#32cd32"/>
<rect x="199" y="138" width="1" height="32" fill="#ff0000"/>
<rect x="198" y="139" width="3" height="26" fill="#ff0000"/>
<rect x="199" y="140" width="1" height="24" fill="#ff4500"/>
<rect x="203" y="130" width="1" height="19" fill="#ff0000"/>
<rect x="202" y="131" width="3" height="9" fill="#ff0000"/>
<rect x="203" y="132" width="1" height="7" fill="#ff4500"/>
<rect x="207" y="100" width="1" height="37" fill="#ff0000"/>
<rect x="206" y="101" width="3" height="30" fill="#ff0000"/>
<rect x="207" y="102" width="1" height="28" fill="#ff4500"/>
<rect x="211" y="100" width="1" height="19" fill="#32cd32"/>
<rect x="210" y="101" width="3" height="13" fill="#32cd32"/>
<rect x="215" y="100" width="1" height="15" fill="#ff0000"/>
<rect x="214" y="101" width="3" height="11" fill="#ff0000"/>
<rect x="215" y="102" width="1" height="9" fill="#ff4500"/>
<rect x="219" y="60" width="1" height="41" fill="#ff0000"/>
<rect x="218" y="62" width="3" height="38" fill="#ff0000"/>
<rect x="219" y="63" width="1" height="36" fill="#ff4500"/>
<rect x="223" y="46" width="1" height="34" fill="#ff0000"/>
<rect x="222" y="50" width="3" height="20" fill="#ff0000"/>
<rect x="223" y="51" width="1" height="18" fill="#ff4500"/>
<rect x="227" y="44" width="1" height="45" fill="#ff0000"/>
<rect x="226" y="67" width="3" height="15" fill="#ff0000"/>
<rect x="227" y="68" width="1" height="13" fill="#ff4500"/>
<rect x="231" y="50" width="1" height="50" fill="#32cd32"/>
<rect x="230" y="68" width="3" height="22" fill="#32cd32"/>
<rect x="235" y="78" width="1" height="39" fill="#32cd32"/>
<rect x="234" y="91" width="3" height="24" fill="#32cd32"/>
<rect x="239" y="96" width="1" height="21" fill="#ff0000"/>
<rect x="238" y="98" width="3" height="15" fill="#ff0000"/>
<rect x="239" y="99" width="1" height="13" fill="#ff4500"/>
<rect x="243" y="81" width="1" height="19" fill="#ff0000"/>
<rect x="242" y="91" width="3" height="7" fill="#ff0000"/>
<rect x="243" y="92" width="1" height="5" fill="#ff4500"/>
<rect x="247" y="70" width="1" height="30" fill="#ff0000"/>
<rect x="246" y="86" width="3" height="6" fill="#ff0000"/>
<rect x="247" y="87" width="1" height="4" fill="#ff4500"/>
<rect x="251" y="76" width="1" height="30" fill="#32cd32"/>
<rect x="250" y="87" width="3" height="17" fill="#32cd32"/>
<rect x="255" y="87" width="1" height="26" fill="#32cd32"/>
<rect x="254" y="102" width="3" height="7" fill="#32cd32"/>
<rect x="259" y="106" width="1" height="31" fill="#32cd32"/>
<rect x="258" y="110" width="3" height="16" fill="#32cd32"/>
<rect x="263" y="109" width="1" height="32" fill="#32cd32"/>
<rect x="262" y="124" width="3" height="12" fill="#32cd32"/>
<rect x="267" y="120" width="1" height="24" fill="#ff0000"/>
<rect x="266" y="133" width="3" height="2" fill="#ff0000"/>
<rect x="271" y="123" width="1" height="48" fill="#32cd32"/>
<rect x="270" y="134" width="3" height="28" fill="#32cd32"/>
<rect x="275" y="158" width="1" height="35" fill="#32cd32"/>
<rect x="274" y="162" width="3" height="12" fill="#32cd32"/>
<rect x="279" y="171" width="1" height="23" fill="#32cd32"/>
<rect x="278" y="172" width="3" height="15" fill="#32cd32"/>
<rect x="283" y="175" width="1" height="30" fill="#ff0000"/>
<rect x="282" y="181" width="3" height="5" fill="#ff0000"/>
<rect x="283" y="182" width="1" height="3" fill="#ff4500"/>
<rect x="287" y="177" width="1" height="20" fill="#32cd32"/>
<rect x="286" y="180" width="3" height="14" fill="#32cd32"/>
<rect x="291" y="188" width="1" height="31" fill="#32cd32"/>
<rect x="290" y="192" width="3" height="21" fill="#32cd32"/>
<rect x="295" y="195" width="1" height="19" fill="#ff0000"/>
<rect x="294" y="200" width="3" height="12" fill="#ff0000"/>
<rect x="295" y="201" width="1" height="10" fill="#ff4500"/>
<rect x="299" y="193" width="1" height="30" fill="#32cd32"/>
<rect x="298" y="199" width="3" height="15" fill="#32cd32"/>
<rect x="303" y="213" width="1" height="20" fill="#32cd32"/>
<rect x="302" y="213" width="3" height="15" fill="#32cd32"/>
<rect x="307" y="213" width="1" height="19" fill="#ff0000"/>
<rect x="306" y="214" width="3" height="14" fill="#ff0000"/>
<rect x="307" y="215" width="1" height="12" fill="#ff4500"/>
<rect x="311" y="199" width="1" height="23" fill="#32cd32"/>
<rect x="310" y="216" width="3" height="3" fill="#32cd32"/>
<rect x="315" y="187" width="1" height="32" fill="#ff0000"/>
<rect x="314" y="199" width="3" height="20" fill="#ff0000"/>
<rect x="315" y="200" width="1" height="18" fill="#ff4500"/>
<rect x="319" y="185" width="1" height="23" fill="#ff0000"/>
<rect x="318" y="196" width="3" height="3" fill="#ff0000"/>
<rect x="319" y="197" width="1" height="1" fill="#ff4500"/>
<rect x="323" y="195" width="1" height="35" fill="#32cd32"/>
<rect x="322" y="197" width="3" height="29" fill="#32cd32"/>
<rect x="327" y="223" width="1" height="77" fill="#32cd32"/>
<rect x="326" y="225" width="3" height="72" fill="#32cd32"/>
<rect x="331" y="279" width="1" height="39" fill="#ff0000"/>
<rect x="330" y="291" width="3" height="9" fill="#ff0000"/>
<rect x="331" y="292" width="1" height="7" fill="#ff4500"/>
<rect x="335" y="275" width="1" height="25" fill="#ff0000"/>
<rect x="334" y="280" width="3" height="11" fill="#ff0000"/>
<rect x="335" y="281" width="1" height="9" fill="#ff4500"/>
<rect x="339" y="231" width="1" height="55" fill="#ff0000"/>
<rect x="338" y="241" width="3" height="40" fill="#ff0000"/>
<rect x="339" y="242" width="1" height="38" fill="#ff4500"/>
<rect x="343" y="235" width="1" height="24" fill="#32cd32"/>
<rect x="342" y="241" width="3" height="9" fill="#32cd32"/>
<rect x="347" y="246" width="1" height="30" fill="#32cd32"/>
<rect x="346" y="250" width="3" height="15" fill="#32cd32"/>
<rect x="351" y="249" width="1" height="18" fill="#ff0000"/>
<rect x="350" y="262" width="3" height="3" fill="#ff0000"/>
<rect x="351" y="263" width="1" height="1" fill="#ff4500"/>
<rect x="355" y="259" width="1" height="38" fill="#32cd32"/>
<rect x="354" y="262" width="3" height="25" fill="#32cd32"/>
<rect x="359" y="262" width="1" height="28" fill="#ff0000"/>
<rect x="358" y="262" width="3" height="25" fill="#ff0000"/>
<rect x="359" y="263" width="1" height="23" fill="#ff4500"/>
<rect x="363" y="260" width="1" height="18" fill="#32cd32"/>
<rect x="362" y="262" width="3" height="12" fill="#32cd32"/>
<rect x="367" y="261" width="1" height="22" fill="#ff0000"/>
<rect x="366" y="269" width="3" height="5" fill="#ff0000"/>
<rect x="367" y="270" width="1" height="3" fill="#ff4500"/>
<rect x="371" y="262" width="1" height="49" fill="#32cd32"/>
<rect x="370" y="270" width="3" height="33" fill="#32cd32"/>
<rect x="375" y="300" width="1" height="36" fill="#32cd32"/>
<rect x="374" y="303" width="3" height="6" fill="#32cd32"/>
<rect x="379" y="307" width="1" height="51" fill="#32cd32"/>
<rect x="378" y="308" width="3" height="37" fill="#32cd32"/>
<rect x="383" y="334" width="1" height="38" fill="#32cd32"/>
<rect x="382" y="344" width="3" height="11" fill="#32cd32"/>
<rect x="387" y="351" width="1" height="34" fill="#32cd32"/>
<rect x="386" y="355" width="3" height="27" fill="#32cd32"/>
<rect x="391" y="361" width="1" height="34" fill="#32cd32"/>
<rect x="390" y="368" width="3" height="3" fill="#32cd32"/>
<rect x="395" y="344" width="1" height="39" fill="#ff0000"/>
<rect x="394" y="351" width="3" height="20" fill="#ff0000"/>
<rect x="395" y="352" width="1" height="18" fill="#ff4500"/>
<rect x="399" y="336" width="1" height="21" fill="#ff0000"/>
<rect x="398" y="348" width="3" height="3" fill="#ff0000"/>
<rect x="399" y="349" width="1" height="1" fill="#ff4500"/>
<rect x="403" y="323" width="1" height="31" fill="#ff0000"/>
<rect x="402" y="325" width="3" height="23" fill="#ff0000"/>
<rect x="403" y="326" width="1" height="21" fill="#ff4500"/>
<rect x="407" y="308" width="1" height="38" fill="#32cd32"/>
<rect x="406" y="325" width="3" height="13" fill="#32cd32"/>
<rect x="411" y="324" width="1" height="23" fill="#32cd32"/>
<rect x="410" y="335" width="3" height="6" fill="#32cd32"/>
<rect x="415" y="320" width="1" height="25" fill="#ff0000"/>
<rect x="414" y="322" width="3" height="19" fill="#ff0000"/>
<rect x="415" y="323" width="1" height="17" fill="#ff4500"/>
<rect x="419" y="321" width="1" height="29" fill="#32cd32"/>
<rect x="418" y="322" width="3" height="18" fill="#32cd32"/>
<rect x="423" y="331" width="1" height="25" fill="#32cd32"/>
<rect x="422" y="340" width="3" height="6" fill="#32cd32"/>
<rect x="427" y="323" width="1" height="31" fill="#ff0000"/>
<rect x="426" y="331" width="3" height="14" fill="#ff0000"/>
<rect x="427" y="332" width="1" height="12" fill="#ff4500"/>
<rect x="431" y="294" width="1" height="37" fill="#ff0000"/>
<rect x="430" y="311" width="3" height="19" fill="#ff0000"/>
<rect x="431" y="312" width="1" height="17" fill="#ff4500"/>
<rect x="435" y="307" width="1" height="16" fill="#32cd32"/>
<rect x="434" y="311" width="3" height="2" fill="#32cd32"/>
<rect x="439" y="260" width="1" height="78" fill="#ff0000"/>
<rect x="438" y="266" width="3" height="47" fill="#ff0000"/>
<rect x="439" y="267" width="1" height="45" fill="#ff4500"/>
<rect x="443" y="226" width="1" height="66" fill="#ff0000"/>
<rect x="442" y="245" width="3" height="21" fill="#ff0000"/>
<rect x="443" y="246" width="1" height="19" fill="#ff4500"/>
<rect x="447" y="229" width="1" height="34" fill="#ff0000"/>
<rect x="446" y="237" width="3" height="9" fill="#ff0000"/>
<rect x="447" y="238" width="1" height="7" fill="#ff4500"/>
<rect x="451" y="204" width="1" height="42" fill="#ff0000"/>
<rect x="450" y="223" width="3" height="19" fill="#ff0000"/>
<rect x="451" y="224" width="1" height="17" fill="#ff4500"/>
<rect x="455" y="195" width="1" height="35" fill="#ff0000"/>
<rect x="454" y="210" width="3" height="13" fill="#ff0000"/>
<rect x="455" y="211" width="1" height="11" fill="#ff4500"/>
<rect x="459" y="182" width="1" height="34" fill="#ff0000"/>
<rect x="458" y="206" width="3" height="4" fill="#ff0000"/>
<rect x="459" y="207" width="1" height="2" fill="#ff4500"/>
<rect x="463" y="195" width="1" height="31" fill="#32cd32"/>
<rect x="462" y="206" width="3" height="12" fill="#32cd32"/>
<rect x="467" y="215" width="1" height="32" fill="#32cd32"/>
<rect x="466" y="216" width="3" height="16" fill="#32cd32"/>
<rect x="471" y="221" width="1" height="17" fill="#ff0000"/>
<rect x="470" y="232" width="3" height="4" fill="#ff0000"/>
<rect x="471" y="233" width="1" height="2" fill="#ff4500"/>
<rect x="475" y="218" width="1" height="20" fill="#ff0000"/>
<rect x="474" y="226" width="3" height="7" fill="#ff0000"/>
<rect x="475" y="227" width="1" height="5" fill="#ff4500"/>
<rect x="479" y="221" width="1" height="16" fill="#ff0000"/>
<rect x="478" y="222" width="3" height="4" fill="#ff0000"/>
<rect x="479" y="223" width="1" height="2" fill="#ff4500"/>
<rect x="483" y="211" width="1" height="20" fill="#ff0000"/>
<rect x="482" y="213" width="3" height="9" fill="#ff0000"/>
<rect x="483" y="214" width="1" height="7" fill="#ff4500"/>
<rect x="487" y="188" width="1" height="34" fill="#32cd32"/>
<rect x="486" y="213" width="3" height="4" fill="#32cd32"/>
<rect x="491" y="211" width="1" height="25" fill="#32cd32"/>
<rect x="490" y="217" width="3" height="13" fill="#32cd32"/>
<rect x="495" y="195" width="1" height="42" fill="#ff0000"/>
<rect x="494" y="207" width="3" height="22" fill="#ff0000"/>
<rect x="495" y="208" width="1" height="20" fill="#ff4500"/>
<rect x="499" y="199" width="1" height="29" fill="#32cd32"/>
<rect x="498" y="207" width="3" height="6" fill="#32cd32"/>
<rect x="503" y="174" width="1" height="41" fill="#ff0000"/>
<rect x="502" y="189" width="3" height="24" fill="#ff0000"/>
<rect x="503" y="190" width="1" height="22" fill="#ff4500"/>
<rect x="507" y="174" width="1" height="28" fill="#32cd32"/>
<rect x="506" y="188" width="3" height="14" fill="#32cd32"/>
<rect x="511" y="200" width="1" height="15" fill="#32cd32"/>
<rect x="510" y="206" width="3" height="5" fill="#32cd32"/>
<rect x="515" y="201" width="1" height="23" fill="#ff0000"/>
<rect x="514" y="203" width="3" height="8" fill="#ff0000"/>
<rect x="515" y="204" width="1" height="6" fill="#ff4500"/>
<rect x="519" y="197" width="1" height="52" fill="#32cd32"/>
<rect x="518" y="203" width="3" height="28" fill="#32cd32"/>
<rect x="523" y="228" width="1" height="12" fill="#ff0000"/>
<rect x="522" y="228" width="3" height="3" fill="#ff0000"/>
<rect x="523" y="229" width="1" height="1" fill="#ff4500"/>
<rect x="527" y="200" width="1" height="30" fill="#ff0000"/>
<rect x="526" y="213" width="3" height="16" fill="#ff0000"/>
<rect x="527" y="214" width="1" height="14" fill="#ff4500"/>
<rect x="531" y="177" width="1" height="34" fill="#ff0000"/>
<rect x="530" y="182" width="3" height="28" fill="#ff0000"/>
<rect x="531" y="183" width="1" height="26" fill="#ff4500"/>
<rect x="535" y="182" width="1" height="22" fill="#32cd32"/>
<rect x="534" y="182" width="3" height="16" fill="#32cd32"/>
<rect x="539" y="194" width="1" height="41" fill="#32cd32"/>
<rect x="538" y="196" width="3" height="31" fill="#32cd32"/>
<rect x="543" y="207" width="1" height="22" fill="#ff0000"/>
<rect x="542" y="212" width="3" height="15" fill="#ff0000"/>
<rect x="543" y="213" width="1" height="13" fill="#ff4500"/>
<rect x="547" y="194" width="1" height="26" fill="#ff0000"/>
<rect x="546" y="209" width="3" height="2" fill="#ff0000"/>
<rect x="551" y="182" width="1" height="29" fill="#ff0000"/>
<rect x="550" y="202" width="3" height="8" fill="#ff0000"/>
<rect x="551" y="203" width="1" height="6" fill="#ff4500"/>
<rect x="555" y="132" width="1" height="72" fill="#ff0000"/>
<rect x="554" y="141" width="3" height="61" fill="#ff0000"/>
<rect x="555" y="142" width="1" height="59" fill="#ff4500"/>
<rect x="559" y="141" width="1" height="59" fill="#32cd32"/>
<rect x="558" y="142" width="3" height="51" fill="#32cd32"/>
<rect x="563" y="184" width="1" height="56" fill="#32cd32"/>
<rect x="562" y="192" width="3" height="43" fill="#32cd32"/>
<rect x="567" y="214" width="1" height="34" fill="#ff0000"/>
<rect x="566" y="225" width="3" height="10" fill="#ff0000"/>
<rect x="567" y="226" width="1" height="8" fill="#ff4500"/>
<rect x="571" y="215" width="1" height="20" fill="#32cd32"/>
<rect x="570" y="224" width="3" height="5" fill="#32cd32"/>
<rect x="575" y="220" width="1" height="14" fill="#ff0000"/>
<rect x="574" y="226" width="3" height="3" fill="#ff0000"/>
<rect x="575" y="227" width="1" height="1" fill="#ff4500"/>
<rect x="579" y="223" width="1" height="21" fill="#32cd32"/>
<rect x="578" y="226" width="3" height="5" fill="#32cd32"/>
<rect x="583" y="226" width="1" height="17" fill="#32cd32"/>
<rect x="582" y="230" width="3" height="4" fill="#32cd32"/>
<rect x="587" y="198" width="1" height="36" fill="#ff0000"/>
<rect x="586" y="206" width="3" height="28" fill="#ff0000"/>
<rect x="587" y="207" width="1" height="26" fill="#ff4500"/>
<rect x="591" y="192" width="1" height="22" fill="#ff0000"/>
<rect x="590" y="197" width="3" height="5" fill="#ff0000"/>
<rect x="591" y="198" width="1" height="3" fill="#ff4500"/>
<rect x="595" y="191" width="1" height="15" fill="#ff0000"/>
<rect x="594" y="194" width="3" height="5" fill="#ff0000"/>
<rect x="595" y="195" width="1" height="3" fill="#ff4500"/>
<rect x="599" y="185" width="1" height="31" fill="#32cd32"/>
<rect x="598" y="194" width="3" height="16" fill="#32cd32"/>
<rect x="603" y="201" width="1" height="13" fill="#ff0000"/>
<rect x="602" y="207" width="3" height="2" fill="#ff0000"/>
<rect x="607" y="196" width="1" height="16" fill="#32cd32"/>
<rect x="606" y="206" width="3" height="6" fill="#32cd32"/>
<rect x="611" y="202" width="1" height="14" fill="#32cd32"/>
<rect x="610" y="204" width="3" height="7" fill="#32cd32"/>
<rect x="615" y="179" width="1" height="33" fill="#ff0000"/>
<rect x="614" y="186" width="3" height="25" fill="#ff0000"/>
<rect x="615" y="187" width="1" height="23" fill="#ff4500"/>
<rect x="619" y="184" width="1" height="21" fill="#32cd32"/>
<rect x="618" y="186" width="3" height="11" fill="#32cd32"/>
<rect x="623" y="168" width="1" height="29" fill="#ff0000"/>
<rect x="622" y="176" width="3" height="21" fill="#ff0000"/>
<rect x="623" y="177" width="1" height="19" fill="#ff4500"/>
<rect x="627" y="159" width="1" height="22" fill="#32cd32"/>
<rect x="626" y="176" width="3" height="1" fill="#32cd32"/>
<rect x="631" y="173" width="1" height="40" fill="#32cd32"/>
<rect x="630" y="174" width="3" height="33" fill="#32cd32"/>
<rect x="635" y="196" width="1" height="31" fill="#32cd32"/>
<rect x="634" y="206" width="3" height="14" fill="#32cd32"/>
<rect x="639" y="206" width="1" height="18" fill="#ff0000"/>
<rect x="638" y="219" width="3" height="1" fill="#ff0000"/>
<rect x="643" y="196" width="1" height="24" fill="#ff0000"/>
<rect x="642" y="201" width="3" height="19" fill="#ff0000"/>
<rect x="643" y="202" width="1" height="17" fill="#ff4500"/>
<rect x="647" y="195" width="1" height="41" fill="#32cd32"/>
<rect x="646" y="201" width="3" height="31" fill="#32cd32"/>
<rect x="651" y="221" width="1" height="11" fill="#ff0000"/>
<rect x="650" y="225" width="3" height="5" fill="#ff0000"/>
<rect x="651" y="226" width="1" height="3" fill="#ff4500"/>
<rect x="655" y="216" width="1" height="38" fill="#32cd32"/>
<rect x="654" y="225" width="3" height="19" fill="#32cd32"/>
<rect x="659" y="228" width="1" height="26" fill="#32cd32"/>
<rect x="658" y="243" width="3" height="4" fill="#32cd32"/>
<rect x="663" y="235" width="1" height="19" fill="#32cd32"/>
<rect x="662" y="246" width="3" height="5" fill="#32cd32"/>
<rect x="667" y="238" width="1" height="50" fill="#32cd32"/>
<rect x="666" y="250" width="3" height="18" fill="#32cd32"/>
<rect x="671" y="241" width="1" height="26" fill="#ff0000"/>
<rect x="670" y="250" width="3" height="17" fill="#ff0000"/>
<rect x="671" y="251" width="1" height="15" fill="#ff4500"/>
<rect x="675" y="227" width="1" height="26" fill="#ff0000"/>
<rect x="674" y="232" width="3" height="18" fill="#ff0000"/>
<rect x="675" y="233" width="1" height="16" fill="#ff4500"/>
<rect x="679" y="229" width="1" height="17" fill="#32cd32"/>
<rect x="678" y="232" width="3" height="5" fill="#32cd32"/>
<rect x="683" y="230" width="1" height="25" fill="#32cd32"/>
<rect x="682" y="236" width="3" height="11" fill="#32cd32"/>
<rect x="687" y="241" width="1" height="45" fill="#32cd32"/>
<rect x="686" y="246" width="3" height="16" fill="#32cd32"/>
<rect x="691" y="243" width="1" height="20" fill="#ff0000"/>
<rect x="690" y="260" width="3" height="3" fill="#ff0000"/>
<rect x="691" y="261" width="1" height="1" fill="#ff4500"/>
<rect x="695" y="253" width="1" height="27" fill="#32cd32"/>
<rect x="694" y="259" width="3" height="9" fill="#32cd32"/>
<rect x="699" y="258" width="1" height="30" fill="#32cd32"/>
<rect x="698" y="267" width="3" height="14" fill="#32cd32"/>
<rect x="703" y="241" width="1" height="41" fill="#ff0000"/>
<rect x="702" y="244" width="3" height="37" fill="#ff0000"/>
<rect x="703" y="245" width="1" height="35" fill="#ff4500"/>
<rect x="707" y="217" width="1" height="41" fill="#ff0000"/>
<rect x="706" y="219" width="3" height="26" fill="#ff0000"/>
<rect x="707" y="220" width="1" height="24" fill="#ff4500"/>
<rect x="711" y="192" width="1" height="27" fill="#ff0000"/>
<rect x="710" y="202" width="3" height="13" fill="#ff0000"/>
<rect x="711" y="203" width="1" height="11" fill="#ff4500"/>
<rect x="715" y="193" width="1" height="24" fill="#ff0000"/>
<rect x="714" y="197" width="3" height="6" fill="#ff0000"/>
<rect x="715" y="198" width="1" height="4" fill="#ff4500"/>
<rect x="719" y="193" width="1" height="51" fill="#32cd32"/>
<rect x="718" y="197" width="3" height="21" fill="#32cd32"/>
<rect x="723" y="212" width="1" height="34" fill="#32cd32"/>
<rect x="722" y="218" width="3" height="13" fill="#32cd32"/>
<rect x="727" y="215" width="1" height="23" fill="#ff0000"/>
<rect x="726" y="227" width="3" height="4" fill="#ff0000"/>
<rect x="727" y="228" width="1" height="2" fill="#ff4500"/>
<rect x="731" y="220" width="1" height="24" fill="#32cd32"/>
<rect x="730" y="232" width="3" height="3" fill="#32cd32"/>
<rect x="735" y="217" width="1" height="28" fill="#ff0000"/>
<rect x="734" y="218" width="3" height="17" fill="#ff0000"/>
<rect x="735" y="219" width="1" height="15" fill="#ff4500"/>
<rect x="739" y="204" width="1" height="22" fill="#ff0000"/>
<rect x="738" y="205" width="3" height="13" fill="#ff0000"/>
<rect x="739" y="206" width="1" height="11" fill="#ff4500"/>
<rect x="743" y="205" width="1" height="51" fill="#32cd32"/>
<rect x="742" y="206" width="3" height="45" fill="#32cd32"/>
<rect x="747" y="231" width="1" height="51" fill="#32cd32"/>
<rect x="746" y="250" width="3" height="27" fill="#32cd32"/>
<rect x="751" y="235" width="1" height="29" fill="#ff0000"/>
<rect x="750" y="249" width="3" height="11" fill="#ff0000"/>
<rect x="751" y="250" width="1" height="9" fill="#ff4500"/>
<rect x="755" y="234" width="1" height="27" fill="#32cd32"/>
<rect x="754" y="250" width="3" height="2" fill="#32cd32"/>
<rect x="759" y="218" width="1" height="36" fill="#ff0000"/>
<rect x="758" y="241" width="3" height="11" fill="#ff0000"/>
<rect x="759" y="242" width="1" height="9" fill="#ff4500"/>
<rect x="763" y="238" width="1" height="15" fill="#32cd32"/>
<rect x="762" y="241" width="3" height="8" fill="#32cd32"/>
<rect x="767" y="240" width="1" height="22" fill="#32cd32"/>
<rect x="766" y="248" width="3" height="10" fill="#32cd32"/>
<rect x="771" y="234" width="1" height="36" fill="#ff0000"/>
<rect x="770" y="235" width="3" height="21" fill="#ff0000"/>
<rect x="771" y="236" width="1" height="19" fill="#ff4500"/>
<rect x="775" y="227" width="1" height="24" fill="#32cd32"/>
<rect x="774" y="236" width="3" height="6" fill="#32cd32"/>
<rect x="779" y="240" width="1" height="47" fill="#32cd32"/>
<rect x="778" y="241" width="3" height="41" fill="#32cd32"/>
<rect x="783" y="264" width="1" height="23" fill="#ff0000"/>
<rect x="782" y="270" width="3" height="11" fill="#ff0000"/>
<rect x="783" y="271" width="1" height="9" fill="#ff4500"/>
<rect x="787" y="267" width="1" height="24" fill="#32cd32"/>
<rect x="786" y="270" width="3" height="3" fill="#32cd32"/>
<rect x="791" y="265" width="1" height="22" fill="#32cd32"/>
<rect x="790" y="275" width="3" height="6" fill="#32cd32"/>
<rect x="795" y="280" width="1" height="91" fill="#32cd32"/>
<rect x="794" y="281" width="3" height="79" fill="#32cd32"/>
<rect x="799" y="330" width="1" height="33" fill="#ff0000"/>
<rect x="798" y="334" width="3" height="25" fill="#ff0000"/>
<rect x="799" y="335" width="1" height="23" fill="#ff4500"/>
<rect x="803" y="323" width="1" height="26" fill="#ff0000"/>
<rect x="802" y="332" width="3" height="2" fill="#ff0000"/>
<rect x="807" y="326" width="1" height="32" fill="#32cd32"/>
<rect x="806" y="332" width="3" height="15" fill="#32cd32"/>
<rect x="811" y="340" width="1" height="22" fill="#32cd32"/>
<rect x="810" y="348" width="3" height="5" fill="#32cd32"/>
<rect x="815" y="345" width="1" height="16" fill="#32cd32"/>
<rect x="814" y="352" width="3" height="3" fill="#32cd32"/>
<rect x="819" y="328" width="1" height="31" fill="#ff0000"/>
<rect x="818" y="332" width="3" height="23" fill="#ff0000"/>
<rect x="819" y="333" width="1" height="21" fill="#ff4500"/>
<rect x="823" y="316" width="1" height="28" fill="#32cd32"/>
<rect x="822" y="331" width="3" height="10" fill="#32cd32"/>
<rect x="827" y="308" width="1" height="42" fill="#ff0000"/>
<rect x="826" y="311" width="3" height="29" fill="#ff0000"/>
<rect x="827" y="312" width="1" height="27" fill="#ff4500"/>
<rect x="831" y="310" width="1" height="25" fill="#32cd32"/>
<rect x="830" y="313" width="3" height="18" fill="#32cd32"/>
<rect x="835" y="317" width="1" height="19" fill="#ff0000"/>
<rect x="834" y="321" width="3" height="10" fill="#ff0000"/>
<rect x="835" y="322" width="1" height="8" fill="#ff4500"/>
<rect x="839" y="313" width="1" height="24" fill="#32cd32"/>
<rect x="838" y="320" width="3" height="15" fill="#32cd32"/>
<rect x="843" y="320" width="1" height="18" fill="#ff0000"/>
<rect x="842" y="330" width="3" height="5" fill="#ff0000"/>
<rect x="843" y="331" width="1" height="3" fill="#ff4500"/>
<rect x="847" y="311" width="1" height="22" fill="#ff0000"/>
<rect x="846" y="326" width="3" height="5" fill="#ff0000"/>
<rect x="847" y="327" width="1" height="3" fill="#ff4500"/>
<rect x="851" y="324" width="1" height="23" fill="#32cd32"/>
<rect x="850" y="328" width="3" height="13" fill="#32cd32"/>
<rect x="855" y="326" width="1" height="20" fill="#32cd32"/>
<rect x="854" y="340" width="3" height="4" fill="#32cd32"/>
<rect x="859" y="320" width="1" height="26" fill="#ff0000"/>
<rect x="858" y="324" width="3" height="18" fill="#ff0000"/>
<rect x="859" y="325" width="1" height="16" fill="#ff4500"/>
<rect x="863" y="312" width="1" height="35" fill="#32cd32"/>
<rect x="862" y="324" width="3" height="12" fill="#32cd32"/>
<rect x="867" y="332" width="1" height="35" fill="#32cd32"/>
<rect x="866" y="334" width="3" height="16" fill="#32cd32"/>
<rect x="871" y="346" width="1" height="17" fill="#ff0000"/>
<rect x="870" y="350" width="3" height="6" fill="#ff0000"/>
<rect x="871" y="351" width="1" height="4" fill="#ff4500"/>
<rect x="875" y="327" width="1" height="54" fill="#ff0000"/>
<rect x="874" y="336" width="3" height="15" fill="#ff0000"/>
<rect x="875" y="337" width="1" height="13" fill="#ff4500"/>
<rect x="879" y="333" width="1" height="33" fill="#32cd32"/>
<rect x="878" y="336" width="3" height="25" fill="#32cd32"/>
<rect x="883" y="338" width="1" height="25" fill="#ff0000"/>
<rect x="882" y="353" width="3" height="7" fill="#ff0000"/>
<rect x="883" y="354" width="1" height="5" fill="#ff4500"/>
<rect x="887" y="330" width="1" height="25" fill="#ff0000"/>
<rect x="886" y="337" width="3" height="17" fill="#ff0000"/>
<rect x="887" y="338" width="1" height="15" fill="#ff4500"/>
<rect x="891" y="330" width="1" height="28" fill="#32cd32"/>
<rect x="890" y="334" width="3" height="8" fill="#32cd32"/>
<rect x="895" y="331" width="1" height="18" fill="#ff0000"/>
<rect x="894" y="336" width="3" height="5" fill="#ff0000"/>
<rect x="895" y="337" width="1" height="3" fill="#ff4500"/>
<rect x="899" y="325" width="1" height="19" fill="#ff0000"/>
<rect x="898" y="331" width="3" height="7" fill="#ff0000"/>
<rect x="899" y="332" width="1" height="5" fill="#ff4500"/>
<rect x="903" y="329" width="1" height="17" fill="#32cd32"/>
<rect x="902" y="330" width="3" height="9" fill="#32cd32"/>
<rect x="907" y="323" width="1" height="17" fill="#ff0000"/>
<rect x="906" y="326" width="3" height="14" fill="#ff0000"/>
<rect x="907" y="327" width="1" height="12" fill="#ff4500"/>
<rect x="911" y="330" width="1" height="22" fill="#32cd32"/>
<rect x="910" y="331" width="3" height="16" fill="#32cd32"/>
<rect x="915" y="346" width="1" height="33" fill="#32cd32"/>
<rect x="914" y="346" width="3" height="26" fill="#32cd32"/>
<rect x="919" y="360" width="1" height="19" fill="#ff0000"/>
<rect x="918" y="366" width="3" height="5" fill="#ff0000"/>
<rect x="919" y="367" width="1" height="3" fill="#ff4500"/>
<rect x="922" y="366" width="3" height="1" fill="#32cd32"/>
</g></g>
<g shape-rendering="crispEdges">
<rect x="2" y="437" width="3" height="30" fill="#c0c0c0"/>
<rect x="6" y="437" width="3" height="29" fill="#c0c0c0"/>
<rect x="10" y="437" width="3" height="27" fill="#c0c0c0"/>
<rect x="14" y="437" width="3" height="23" fill="#c0c0c0"/>
<rect x="18" y="437" width="3" height="21" fill="#c0c0c0"/>
<rect x="22" y="437" width="3" height="20" fill="#c0c0c0"/>
<rect x="26" y="437" width="3" height="19" fill="#c0c0c0"/>
<rect x="30" y="437" width="3" height="17" fill="#c0c0c0"/>
<rect x="34" y="437" width="3" height="15" fill="#c0c0c0"/>
<rect x="38" y="437" width="3" height="14" fill="#c0c0c0"/>
<rect x="42" y="437" width="3" height="11" fill="#c0c0c0"/>
<rect x="46" y="437" width="3" height="11" fill="#c0c0c0"/>
<rect x="50" y="437" width="3" height="12" fill="#c0c0c0"/>
<rect x="54" y="437" width="3" height="13" fill="#c0c0c0"/>
<rect x="58" y="437" width="3" height="13" fill="#c0c0c0"/>
<rect x="62" y="437" width="3" height="14" fill="#c0c0c0"/>
<rect x="66" y="437" width="3" height="12" fill="#c0c0c0"/>
<rect x="70" y="437" width="3" height="12" fill="#c0c0c0"/>
<rect x="74" y="437" width="3" height="14" fill="#c0c0c0"/>
<rect x="78" y="437" width="3" height="17" fill="#c0c0c0"/>
<rect x="82" y="437" width="3" height="19" fill="#c0c0c0"/>
<rect x="86" y="437" width="3" height="21" fill="#c0c0c0"/>
<rect x="90" y="437" width="3" height="22" fill="#c0c0c0"/>
<rect x="94" y="437" width="3" height="24" fill="#c0c0c0"/>
<rect x="98" y="437" width="3" height="23" fill="#c0c0c0"/>
<rect x="102" y="437" width="3" height="21" fill="#c0c0c0"/>
<rect x="106" y="437" width="3" height="17" fill="#c0c0c0"/>
<rect x="110" y="437" width="3" height="14" fill="#c0c0c0"/>
<rect x="114" y="437" width="3" height="11" fill="#c0c0c0"/>
<rect x="118" y="437" width="3" height="9" fill="#c0c0c0"/>
<rect x="122" y="437" width="3" height="9" fill="#c0c0c0"/>
<rect x="126" y="437" width="3" height="4" fill="#c0c0c0"/>
<rect x="130" y="437" width="3" height="1" fill="#c0c0c0"/>
<rect x="134" y="436" width="3" height="1" fill="#c0c0c0"/>
<rect x="138" y="435" width="3" height="2" fill="#c0c0c0"/>
<rect x="142" y="434" width="3" height="3" fill="#c0c0c0"/>
<rect x="146" y="432" width="3" height="5" fill="#c0c0c0"/>
<rect x="150" y="428" width="3" height="9" fill="#c0c0c0"/>
<rect x="154" y="422" width="3" height="15" fill="#c0c0c0"/>
<rect x="158" y="420" width="3" height="17" fill="#c0c0c0"/>
<rect x="162" y="421" width="3" height="16" fill="#c0c0c0"/>
<rect x="166" y="423" width="3" height="14" fill="#c0c0c0"/>
<rect x="170" y="423" width="3" height="14" fill="#c0c0c0"/>
<rect x="174" y="425" width="3" height="12" fill="#c0c0c0"/>
<rect x="178" y="425" width="3" height="12" fill="#c0c0c0"/>
<rect x="182" y="426" width="3" height="11" fill="#c0c0c0"/>
<rect x="186" y="425" width="3" height="12" fill="#c0c0c0"/>
<rect x="190" y="425" width="3" height="12" fill="#c0c0c0"/>
<rect x="194" y="426" width="3" height="11" fill="#c0c0c0"/>
<rect x="198" y="425" width="3" height="12" fill="#c0c0c0"/>
<rect x="202" y="422" width="3" height="15" fill="#c0c0c0"/>
<rect x="206" y="419" width="3" height="18" fill="#c0c0c0"/>
<rect x="210" y="418" width="3" height="19" fill="#c0c0c0"/>
<rect x="214" y="414" width="3" height="23" fill="#c0c0c0"/>
<rect x="218" y="412" width="3" height="25" fill="#c0c0c0"/>
<rect x="222" y="411" width="3" height="26" fill="#c0c0c0"/>
<rect x="226" y="410" width="3" height="27" fill="#c0c0c0"/>
<rect x="230" y="410" width="3" height="27" fill="#c0c0c0"/>
<rect x="234" y="413" width="3" height="24" fill="#c0c0c0"/>
<rect x="238" y="414" width="3" height="23" fill="#c0c0c0"/>
<rect x="242" y="415" width="3" height="22" fill="#c0c0c0"/>
<rect x="246" y="415" width="3" height="22" fill="#c0c0c0"/>
<rect x="250" y="417" width="3" height="20" fill="#c0c0c0"/>
<rect x="254" y="419" width="3" height="18" fill="#c0c0c0"/>
<rect x="258" y="422" width="3" height="15" fill="#c0c0c0"/>
<rect x="262" y="424" width="3" height="13" fill="#c0c0c0"/>
<rect x="266" y="427" width="3" height="10" fill="#c0c0c0"/>
<rect x="270" y="430" width="3" height="7" fill="#c0c0c0"/>
<rect x="274" y="434" width="3" height="3" fill="#c0c0c0"/>
<rect x="278" y="437" width="3" height="2" fill="#c0c0c0"/>
<rect x="282" y="437" width="3" height="4" fill="#c0c0c0"/>
<rect x="286" y="437" width="3" height="7" fill="#c0c0c0"/>
<rect x="290" y="437" width="3" height="10" fill="#c0c0c0"/>
<rect x="294" y="437" width="3" height="12" fill="#c0c0c0"/>
<rect x="298" y="437" width="3" height="14" fill="#c0c0c0"/>
<rect x="302" y="437" width="3" height="16" fill="#c0c0c0"/>
<rect x="306" y="437" width="3" height="17" fill="#c0c0c0"/>
<rect x="310" y="437" width="3" height="18" fill="#c0c0c0"/>
<rect x="314" y="437" width="3" height="16" fill="#c0c0c0"/>
<rect x="318" y="437" width="3" height="16" fill="#c0c0c0"/>
<rect x="322" y="437" width="3" height="17" fill="#c0c0c0"/>
<rect x="326" y="437" width="3" height="22" fill="#c0c0c0"/>
<rect x="330" y="437" width="3" height="25" fill="#c0c0c0"/>
<rect x="334" y="437" width="3" height="26" fill="#c0c0c0"/>
<rect x="338" y="437" width="3" height="25" fill="#c0c0c0"/>
<rect x="342" y="437" width="3" height="24" fill="#c0c0c0"/>
<rect x="346" y="437" width="3" height="24" fill="#c0c0c0"/>
<rect x="350" y="437" width="3" height="24" fill="#c0c0c0"/>
<rect x="354" y="437" width="3" height="25" fill="#c0c0c0"/>
<rect x="358" y="437" width="3" height="24" fill="#c0c0c0"/>
<rect x="362" y="437" width="3" height="23" fill="#c0c0c0"/>
<rect x="366" y="437" width="3" height="22" fill="#c0c0c0"/>
<rect x="370" y="437" width="3" height="23" fill="#c0c0c0"/>
<rect x="374" y="437" width="3" height="24" fill="#c0c0c0"/>
<rect x="378" y="437" width="3" height="27" fill="#c0c0c0"/>
<rect x="382" y="437" width="3" height="29" fill="#c0c0c0"/>
<rect x="386" y="437" width="3" height="33" fill="#c0c0c0"/>
<rect x="390" y="437" width="3" height="33" fill="#c0c0c0"/>
<rect x="394" y="437" width="3" height="33" fill="#c0c0c0"/>
<rect x="398" y="437" width="3" height="33" fill="#c0c0c0"/>
<rect x="402" y="437" width="3" height="31" fill="#c0c0c0"/>
<rect x="406" y="437" width="3" height="29" fill="#c0c0c0"/>
<rect x="410" y="437" width="3" height="28" fill="#c0c0c0"/>
<rect x="414" y="437" width="3" height="25" fill="#c0c0c0"/>
<rect x="418" y="437" width="3" height="24" fill="#c0c0c0"/>
<rect x="422" y="437" width="3" height="23" fill="#c0c0c0"/>
<rect x="426" y="437" width="3" height="22" fill="#c0c0c0"/>
<rect x="430" y="437" width="3" height="19" fill="#c0c0c0"/>
<rect x="434" y="437" width="3" height="16" fill="#c0c0c0"/>
<rect x="438" y="437" width="3" height="11" fill="#c0c0c0"/>
<rect x="442" y="437" width="3" height="6" fill="#c0c0c0"/>
<rect x="446" y="437" width="3" height="2" fill="#c0c0c0"/>
<rect x="450" y="433" width="3" height="4" fill="#c0c0c0"/>
<rect x="454" y="429" width="3" height="8" fill="#c0c0c0"/>
<rect x="458" y="425" width="3" height="12" fill="#c0c0c0"/>
<rect x="462" y="423" width="3" height="14" fill="#c0c0c0"/>
<rect x="466" y="423" width="3" height="14" fill="#c0c0c0"/>
<rect x="470" y="422" width="3" height="15" fill="#c0c0c0"/>
<rect x="474" y="422" width="3" height="15" fill="#c0c0c0"/>
<rect x="478" y="422" width="3" height="15" fill="#c0c0c0"/>
<rect x="482" y="421" width="3" height="16" fill="#c0c0c0"/>
<rect x="486" y="421" width="3" height="16" fill="#c0c0c0"/>
<rect x="490" y="422" width="3" height="15" fill="#c0c0c0"/>
<rect x="494" y="421" width="3" height="16" fill="#c0c0c0"/>
<rect x="498" y="421" width="3" height="16" fill="#c0c0c0"/>
<rect x="502" y="420" width="3" height="17" fill="#c0c0c0"/>
<rect x="506" y="420" width="3" height="17" fill="#c0c0c0"/>
<rect x="510" y="421" width="3" height="16" fill="#c0c0c0"/>
<rect x="514" y="422" width="3" height="15" fill="#c0c0c0"/>
<rect x="518" y="423" width="3" height="14" fill="#c0c0c0"/>
<rect x="522" y="425" width="3" height="12" fill="#c0c0c0"/>
<rect x="526" y="425" width="3" height="12" fill="#c0c0c0"/>
<rect x="530" y="424" width="3" height="13" fill="#c0c0c0"/>
<rect x="534" y="424" width="3" height="13" fill="#c0c0c0"/>
<rect x="538" y="426" width="3" height="11" fill="#c0c0c0"/>
<rect x="542" y="427" width="3" height="10" fill="#c0c0c0"/>
<rect x="546" y="427" width="3" height="10" fill="#c0c0c0"/>
<rect x="550" y="428" width="3" height="9" fill="#c0c0c0"/>
<rect x="554" y="424" width="3" height="13" fill="#c0c0c0"/>
<rect x="558" y="424" width="3" height="13" fill="#c0c0c0"/>
<rect x="562" y="427" width="3" height="10" fill="#c0c0c0"/>
<rect x="566" y="429" width="3" height="8" fill="#c0c0c0"/>
<rect x="570" y="431" width="3" height="6" fill="#c0c0c0"/>
<rect x="574" y="433" width="3" height="4" fill="#c0c0c0"/>
<rect x="578" y="434" width="3" height="3" fill="#c0c0c0"/>
<rect x="582" y="435" width="3" height="2" fill="#c0c0c0"/>
<rect x="586" y="435" width="3" height="2" fill="#c0c0c0"/>
<rect x="590" y="434" width="3" height="3" fill="#c0c0c0"/>
<rect x="594" y="433" width="3" height="4" fill="#c0c0c0"/>
<rect x="598" y="434" width="3" height="3" fill="#c0c0c0"/>
<rect x="602" y="434" width="3" height="3" fill="#c0c0c0"/>
<rect x="606" y="434" width="3" height="3" fill="#c0c0c0"/>
<rect x="610" y="433" width="3" height="4" fill="#c0c0c0"/>
<rect x="614" y="432" width="3" height="5" fill="#c0c0c0"/>
<rect x="618" y="432" width="3" height="5" fill="#c0c0c0"/>
<rect x="622" y="430" width="3" height="7" fill="#c0c0c0"/>
<rect x="626" y="429" width="3" height="8" fill="#c0c0c0"/>
<rect x="630" y="431" width="3" height="6" fill="#c0c0c0"/>
<rect x="634" y="432" width="3" height="5" fill="#c0c0c0"/>
<rect x="638" y="434" width="3" height="3" fill="#c0c0c0"/>
<rect x="642" y="434" width="3" height="3" fill="#c0c0c0"/>
<rect x="646" y="436" width="3" height="1" fill="#c0c0c0"/>
<rect x="650" y="437" width="3" height="1" fill="#c0c0c0"/>
<rect x="654" y="437" width="3" height="3" fill="#c0c0c0"/>
<rect x="658" y="437" width="3" height="5" fill="#c0c0c0"/>
<rect x="662" y="437" width="3" height="6" fill="#c0c0c0"/>
<rect x="666" y="437" width="3" height="8" fill="#c0c0c0"/>
<rect x="670" y="437" width="3" height="9" fill="#c0c0c0"/>
<rect x="674" y="437" width="3" height="8" fill="#c0c0c0"/>
<rect x="678" y="437" width="3" height="8" fill="#c0c0c0"/>
<rect x="682" y="437" width="3" height="8" fill="#c0c0c0"/>
<rect x="686" y="437" width="3" height="9" fill="#c0c0c0"/>
<rect x="690" y="437" width="3" height="10" fill="#c0c0c0"/>
<rect x="694" y="437" width="3" height="10" fill="#c0c0c0"/>
<rect x="698" y="437" width="3" height="12" fill="#c0c0c0"/>
<rect x="702" y="437" width="3" height="11" fill="#c0c0c0"/>
<rect x="706" y="437" width="3" height="8" fill="#c0c0c0"/>
<rect x="710" y="437" width="3" height="5" fill="#c0c0c0"/>
<rect x="714" y="437" width="3" height="2" fill="#c0c0c0"/>
<rect x="718" y="437" width="3" height="1" fill="#c0c0c0"/>
<rect x="722" y="437" width="3" height="1" fill="#c0c0c0"/>
<rect x="726" y="436" width="3" height="1" fill="#c0c0c0"/>
<rect x="730" y="437" width="3" height="1" fill="#c0c0c0"/>
<rect x="734" y="436" width="3" height="1" fill="#c0c0c0"/>
<rect x="738" y="435" width="3" height="2" fill="#c0c0c0"/>
<rect x="742" y="437" width="3" height="1" fill="#c0c0c0"/>
<rect x="746" y="437" width="3" height="3" fill="#c0c0c0"/>
<rect x="750" y="437" width="3" height="4" fill="#c0c0c0"/>
<rect x="754" y="437" width="3" height="4" fill="#c0c0c0"/>
<rect x="758" y="437" width="3" height="4" fill="#c0c0c0"/>
<rect x="762" y="437" width="3" height="4" fill="#c0c0c0"/>
<rect x="766" y="437" width="3" height="5" fill="#c0c0c0"/>
<rect x="770" y="437" width="3" height="3" fill="#c0c0c0"/>
<rect x="774" y="437" width="3" height="3" fill="#c0c0c0"/>
<rect x="778" y="437" width="3" height="6" fill="#c0c0c0"/>
<rect x="782" y="437" width="3" height="7" fill="#c0c0c0"/>
<rect x="786" y="437" width="3" height="8" fill="#c0c0c0"/>
<rect x="790" y="437" width="3" height="9" fill="#c0c0c0"/>
<rect x="794" y="437" width="3" height="15" fill="#c0c0c0"/>
<rect x="798" y="437" width="3" height="17" fill="#c0c0c0"/>
<rect x="802" y="437" width="3" height="19" fill="#c0c0c0"/>
<rect x="806" y="437" width="3" height="21" fill="#c0c0c0"/>
<rect x="810" y="437" width="3" height="23" fill="#c0c0c0"/>
<rect x="814" y="437" width="3" height="24" fill="#c0c0c0"/>
<rect x="818" y="437" width="3" height="23" fill="#c0c0c0"/>
<rect x="822" y="437" width="3" height="23" fill="#c0c0c0"/>
<rect x="826" y="437" width="3" height="20" fill="#c0c0c0"/>
<rect x="830" y="437" width="3" height="19" fill="#c0c0c0"/>
<rect x="834" y="437" width="3" height="19" fill="#c0c0c0"/>
<rect x="838" y="437" width="3" height="18" fill="#c0c0c0"/>
<rect x="842" y="437" width="3" height="17" fill="#c0c0c0"/>
<rect x="846" y="437" width="3" height="16" fill="#c0c0c0"/>
<rect x="850" y="437" width="3" height="16" fill="#c0c0c0"/>
<rect x="854" y="437" width="3" height="16" fill="#c0c0c0"/>
<rect x="858" y="437" width="3" height="14" fill="#c0c0c0"/>
<rect x="862" y="437" width="3" height="14" fill="#c0c0c0"/>
<rect x="866" y="437" width="3" height="14" fill="#c0c0c0"/>
<rect x="870" y="437" width="3" height="14" fill="#c0c0c0"/>
<rect x="874" y="437" width="3" height="13" fill="#c0c0c0"/>
<rect x="878" y="437" width="3" height="14" fill="#c0c0c0"/>
<rect x="882" y="437" width="3" height="13" fill="#c0c0c0"/>
<rect x="886" y="437" width="3" height="12" fill="#c0c0c0"/>
<rect x="890" y="437" width="3" height="12" fill="#c0c0c0"/>
<rect x="894" y="437" width="3" height="10" fill="#c0c0c0"/>
<rect x="898" y="437" width="3" height="9" fill="#c0c0c0"/>
<rect x="902" y="437" width="3" height="9" fill="#c0c0c0"/>
<rect x="906" y="437" width="3" height="7" fill="#c0c0c0"/>
<rect x="910" y="437" width="3" height="7" fill="#c0c0c0"/>
<rect x="914" y="437" width="3" height="9" fill="#c0c0c0"/>
<rect x="918" y="437" width="3" height="9" fill="#c0c0c0"/>
<rect x="922" y="437" width="3" height="10" fill="#c0c0c0"/>
</g>
<polyline points="3.8,467.7 8.5,469.0 13.1,468.8 20.4,465.3 28.3,462.4 36.2,458.4 44.2,455.1 50.1,452.5 57.4,451.2 64.0,449.8 79.9,449.8 85.2,451.2 93.1,453.1 101.1,455.1 106.4,456.5 113.0,456.5 119.6,455.1 126.2,452.5 132.8,447.9 140.8,442.6 150.1,437.9 155.8,434.0 161.7,430.0 167.7,428.7 174.3,425.6 182.3,424.0 192.9,424.0 195.5,425.1 207.4,425.1 214.0,423.4 222.0,420.1 229.9,416.1 237.8,414.1 253.7,414.1 263.0,416.7 274.9,422.0 282.8,427.3 290.8,433.3 300.0,439.9 307.1,445.9 316.4,450.2 327.0,452.5 334.9,455.8 345.5,458.4 353.4,459.1 358.7,460.8 379.9,460.8 387.8,462.7 395.8,464.8 406.4,467.7 417.0,467.7 424.9,465.7 432.8,462.4 439.5,459.1 447.4,454.2 454.0,448.5 460.5,442.6 465.1,437.9 473.7,430.0 482.3,425.4 490.2,423.0 500.8,422.7 503.4,421.6 522.0,422.0 533.9,423.0 541.8,424.0 548.4,426.0 561.7,426.0 569.6,426.9 577.5,429.3 585.5,430.9 593.4,432.2 598.7,434.0 610.4,434.0 612.4,434.9 615.1,434.0 624.3,434.0 627.0,433.0 649.5,433.0 656.1,434.9 664.0,437.0 672.0,440.2 679.9,442.3 690.5,444.9 698.4,445.2 701.1,446.3 713.0,445.9 719.6,443.9 730.2,441.2 742.1,437.9 757.8,437.9 766.4,439.9 777.0,441.0 790.2,442.3 799.5,444.5 807.4,448.5 816.7,453.1 827.3,457.8 844.5,457.8 853.7,455.1 869.6,452.1 880.2,451.6 890.8,449.8 902.7,448.5 910.5,446.8 923.5,445.5" fill="none" stroke="#ff0000" stroke-width="1" shape-rendering="crispEdges"/>
<polyline points="3.5,521.2 7.5,520.0 11.5,515.5 15.5,513.7 19.5,517.5 23.5,518.8 27.5,518.8 31.5,512.8 35.5,514.0 39.5,517.0 43.5,510.7 47.5,516.8 51.5,519.1 55.5,515.8 59.5,516.8 63.5,518.1 67.5,514.5 71.5,516.4 75.5,518.1 79.5,522.8 83.5,520.8 87.5,521.7 91.5,521.7 95.5,524.2 99.5,517.7 103.5,516.8 107.5,513.4 111.5,511.8 115.5,511.8 119.5,513.0 123.5,514.5 127.5,506.4 131.5,508.7 135.5,513.2 139.5,510.7 143.5,509.7 147.5,508.7 151.5,505.1 155.5,500.8 159.5,507.0 163.5,509.7 167.5,513.0 171.5,511.0 175.5,511.0 179.5,511.0 183.5,513.0 187.5,510.1 191.5,510.1 195.5,510.1 199.5,507.0 203.5,505.3 207.5,503.7 211.5,504.8 215.5,499.5 219.5,501.1 223.5,504.0 227.5,503.1 231.5,505.1 235.5,510.1 239.5,508.0 243.5,507.0 247.5,507.0 251.5,510.1 255.5,511.0 259.5,513.0 263.5,515.0 267.5,514.1 271.5,518.6 275.5,519.9 279.5,522.0 283.5,520.9 287.5,522.5 291.5,525.2 295.5,522.0 299.5,523.9 303.5,526.0 307.5,522.0 311.5,522.9 315.5,519.0 319.5,518.0 323.5,522.9 327.5,529.9 331.5,528.9 335.5,526.0 339.5,519.0 343.5,519.9 347.5,522.0 351.5,520.9 355.5,523.9 359.5,519.9 363.5,520.9 367.5,519.9 371.5,523.9 375.5,523.9 379.5,527.8 383.5,528.9 387.5,530.9 391.5,528.9 395.5,525.2 399.5,523.9 403.5,519.9 407.5,520.9 411.5,522.0 415.5,518.0 419.5,519.9 423.5,520.9 427.5,518.0 431.5,515.0 435.5,515.0 439.5,508.0 443.5,505.1 447.5,503.7 451.5,502.7 455.5,500.8 459.5,500.8 463.5,503.7 467.5,507.0 471.5,507.0 475.5,505.7 479.5,504.8 483.5,503.7 487.5,504.8 491.5,508.0 495.5,503.7 499.5,506.1 503.5,502.1 507.5,504.8 511.5,507.0 515.5,506.1 519.5,511.9 523.5,511.9 527.5,509.0 531.5,503.7 535.5,508.0 539.5,513.0 543.5,511.0 547.5,511.0 551.5,508.8 555.5,500.8 559.5,508.8 563.5,515.9 567.5,515.0 571.5,515.0 575.5,515.0 579.5,515.0 583.5,515.9 587.5,511.0 591.5,510.1 595.5,510.1 599.5,511.9 603.5,511.9 607.5,513.0 611.5,513.0 615.5,507.7 619.5,510.1 623.5,507.0 627.5,507.0 631.5,513.0 635.5,515.9 639.5,515.9 643.5,511.9 647.5,518.0 651.5,515.9 655.5,519.0 659.5,519.9 663.5,519.9 667.5,522.9 671.5,519.0 675.5,515.0 679.5,515.9 683.5,518.0 687.5,519.9 691.5,519.9 695.5,521.2 699.5,523.9 703.5,515.0 707.5,509.7 711.5,507.7 715.5,507.0 719.5,511.0 723.5,513.0 727.5,513.0 731.5,514.1 735.5,511.0 739.5,509.0 743.5,517.0 747.5,520.9 751.5,516.1 755.5,515.6 759.5,513.7 763.5,515.6 767.5,516.6 771.5,512.8 775.5,513.7 779.5,519.9 783.5,517.8 787.5,517.8 791.5,519.4 795.5,528.2 799.5,524.4 803.5,522.8 807.5,524.7 811.5,524.7 815.5,526.1 819.5,521.1 823.5,521.6 827.5,516.6 831.5,519.0 835.5,517.8 839.5,519.0 843.5,517.8 847.5,517.8 851.5,519.9 855.5,519.9 859.5,515.6 863.5,517.8 867.5,519.9 871.5,519.9 875.5,517.8 879.5,521.1 883.5,519.4 887.5,515.6 891.5,517.0 895.5,515.6 899.5,513.7 903.5,515.6 907.5,512.5 911.5,516.6 915.5,521.9 919.5,520.8 923.5,520.8" fill="none" stroke="#1e90ff" stroke-width="1" shape-rendering="crispEdges"/>
<text x="1171" y="41" font-size="9.8" fill="#000" textLength="32.5" lengthAdjust="spacingAndGlyphs" stroke="#000" stroke-width="0.2">6.59120</text>
<text x="1171" y="74" font-size="9.8" fill="#000" textLength="32.5" lengthAdjust="spacingAndGlyphs" stroke="#000" stroke-width="0.2">6.56910</text>
<text x="1171" y="107" font-size="9.8" fill="#000" textLength="32.5" lengthAdjust="spacingAndGlyphs" stroke="#000" stroke-width="0.2">6.54700</text>
<text x="1171" y="140" font-size="9.8" fill="#000" textLength="32.5" lengthAdjust="spacingAndGlyphs" stroke="#000" stroke-width="0.2">6.52490</text>
<text x="1171" y="173" font-size="9.8" fill="#000" textLength="32.5" lengthAdjust="spacingAndGlyphs" stroke="#000" stroke-width="0.2">6.50280</text>
<text x="1171" y="206" font-size="9.8" fill="#000" textLength="32.5" lengthAdjust="spacingAndGlyphs" stroke="#000" stroke-width="0.2">6.48005</text>
<text x="1171" y="239" font-size="9.8" fill="#000" textLength="32.5" lengthAdjust="spacingAndGlyphs" stroke="#000" stroke-width="0.2">6.45795</text>
<text x="1171" y="272" font-size="9.8" fill="#000" textLength="32.5" lengthAdjust="spacingAndGlyphs" stroke="#000" stroke-width="0.2">6.43585</text>
<text x="1171" y="305" font-size="9.8" fill="#000" textLength="32.5" lengthAdjust="spacingAndGlyphs" stroke="#000" stroke-width="0.2">6.41375</text>
<text x="1171" y="338" font-size="9.8" fill="#000" textLength="32.5" lengthAdjust="spacingAndGlyphs" stroke="#000" stroke-width="0.2">6.39165</text>
<text x="1171" y="371" font-size="9.8" fill="#000" textLength="32.5" lengthAdjust="spacingAndGlyphs" stroke="#000" stroke-width="0.2">6.36955</text>
<text x="1171" y="404" font-size="9.8" fill="#000" textLength="32.5" lengthAdjust="spacingAndGlyphs" stroke="#000" stroke-width="0.2">6.34745</text>
<text x="1169" y="416" font-size="9.8" fill="#000" textLength="32.5" lengthAdjust="spacingAndGlyphs" stroke="#000" stroke-width="0.2">0.02607</text>
<text x="1169" y="441" font-size="9.8" fill="#000" textLength="18" lengthAdjust="spacingAndGlyphs" stroke="#000" stroke-width="0.2">0.00</text>
<text x="1169" y="471" font-size="9.8" fill="#000" textLength="40.5" lengthAdjust="spacingAndGlyphs" stroke="#000" stroke-width="0.2">-0.031872</text>
<text x="1169.4" y="487" font-size="9.8" fill="#000" textLength="14.6" lengthAdjust="spacingAndGlyphs" stroke="#000" stroke-width="0.2">100</text>
<text x="1168.3" y="502" font-size="9.8" fill="#000" textLength="9.6" lengthAdjust="spacingAndGlyphs" stroke="#000" stroke-width="0.2">70</text>
<text x="1168.3" y="530" font-size="9.8" fill="#000" textLength="9.6" lengthAdjust="spacingAndGlyphs" stroke="#000" stroke-width="0.2">30</text>
<text x="1169.4" y="545" font-size="9.8" fill="#000" textLength="4.8" lengthAdjust="spacingAndGlyphs" stroke="#000" stroke-width="0.2">0</text>
<rect x="1167" y="135" width="41" height="11" fill="#ff0000" shape-rendering="crispEdges"/>
<rect x="1165" y="138" width="2" height="5" fill="#ff0000" shape-rendering="crispEdges"/>
<text x="1171" y="144" font-size="9.4" fill="#fff" textLength="32.5" lengthAdjust="spacingAndGlyphs" stroke="#fff" stroke-width="0.2">6.52109</text>
<rect x="1167" y="211" width="41" height="11" fill="#ff0000" shape-rendering="crispEdges"/>
<rect x="1165" y="214" width="2" height="5" fill="#ff0000" shape-rendering="crispEdges"/>
<text x="1171" y="220" font-size="9.4" fill="#fff" textLength="32.5" lengthAdjust="spacingAndGlyphs" stroke="#fff" stroke-width="0.2">6.47015</text>
<rect x="1167" y="280" width="41" height="11" fill="#00ff00" shape-rendering="crispEdges"/>
<rect x="1165" y="283" width="2" height="5" fill="#00ff00" shape-rendering="crispEdges"/>
<text x="1171" y="289" font-size="9.4" fill="#fff" textLength="32.5" lengthAdjust="spacingAndGlyphs" stroke="#fff" stroke-width="0.2">6.42401</text>
<rect x="1167" y="360" width="41" height="11" fill="#0000ff" shape-rendering="crispEdges"/>
<rect x="1165" y="363" width="2" height="5" fill="#0000ff" shape-rendering="crispEdges"/>
<text x="1171" y="369" font-size="9.4" fill="#fff" textLength="32.5" lengthAdjust="spacingAndGlyphs" stroke="#fff" stroke-width="0.2">6.37007</text>
<text x="2.3" y="561" font-size="9.8" fill="#000" textLength="49" lengthAdjust="spacingAndGlyphs" stroke="#000" stroke-width="0.2">13 Jan 2021</text>
<text x="66.3" y="561" font-size="9.8" fill="#000" textLength="46.5" lengthAdjust="spacingAndGlyphs" stroke="#000" stroke-width="0.2">4 Feb 2021</text>
<text x="130.3" y="561" font-size="9.8" fill="#000" textLength="50.7" lengthAdjust="spacingAndGlyphs" stroke="#000" stroke-width="0.2">26 Feb 2021</text>
<text x="194.3" y="561" font-size="9.8" fill="#000" textLength="51" lengthAdjust="spacingAndGlyphs" stroke="#000" stroke-width="0.2">22 Mar 2021</text>
<text x="258.3" y="561" font-size="9.8" fill="#000" textLength="50" lengthAdjust="spacingAndGlyphs" stroke="#000" stroke-width="0.2">14 Apr 2021</text>
<text x="322.3" y="561" font-size="9.8" fill="#000" textLength="49" lengthAdjust="spacingAndGlyphs" stroke="#000" stroke-width="0.2">6 May 2021</text>
<text x="386.3" y="561" font-size="9.8" fill="#000" textLength="54.6" lengthAdjust="spacingAndGlyphs" stroke="#000" stroke-width="0.2">28 May 2021</text>
<text x="450.3" y="561" font-size="9.8" fill="#000" textLength="49" lengthAdjust="spacingAndGlyphs" stroke="#000" stroke-width="0.2">21 Jun 2021</text>
<text x="514.3" y="561" font-size="9.8" fill="#000" textLength="46.4" lengthAdjust="spacingAndGlyphs" stroke="#000" stroke-width="0.2">13 Jul 2021</text>
<text x="578.3" y="561" font-size="9.8" fill="#000" textLength="47.4" lengthAdjust="spacingAndGlyphs" stroke="#000" stroke-width="0.2">4 Aug 2021</text>
<text x="642.3" y="561" font-size="9.8" fill="#000" textLength="52" lengthAdjust="spacingAndGlyphs" stroke="#000" stroke-width="0.2">26 Aug 2021</text>
<text x="706.3" y="561" font-size="9.8" fill="#000" textLength="51.3" lengthAdjust="spacingAndGlyphs" stroke="#000" stroke-width="0.2">17 Sep 2021</text>
<text x="770.3" y="561" font-size="9.8" fill="#000" textLength="49.5" lengthAdjust="spacingAndGlyphs" stroke="#000" stroke-width="0.2">11 Oct 2021</text>
<text x="834.3" y="561" font-size="9.8" fill="#000" textLength="49.1" lengthAdjust="spacingAndGlyphs" stroke="#000" stroke-width="0.2">2 Nov 2021</text>
<text x="898.3" y="561" font-size="9.8" fill="#000" textLength="53.5" lengthAdjust="spacingAndGlyphs" stroke="#000" stroke-width="0.2">24 Nov 2021</text>
<path d="M6 36.5 L9.5 32 L13 36.5 Z" fill="#000"/>
<text x="18.3" y="37" font-size="10.2" fill="#000" textLength="68.5" lengthAdjust="spacingAndGlyphs" stroke="#000" stroke-width="0.2">USDCNH-,Daily</text>
<text x="93" y="37" font-size="10.2" fill="#000" textLength="140.5" lengthAdjust="spacingAndGlyphs" stroke="#000" stroke-width="0.2">6.37041 6.37041 6.36986 6.36989</text>
<text x="7" y="418" font-size="10.2" fill="#000" textLength="154" lengthAdjust="spacingAndGlyphs" stroke="#000" stroke-width="0.2">MACD(12,26,9) -0.008231 -0.007389</text>
<text x="7.3" y="489" font-size="10.2" fill="#000" textLength="67" lengthAdjust="spacingAndGlyphs" stroke="#000" stroke-width="0.2">RSI(14) 39.8982</text>
<g shape-rendering="crispEdges">
<rect x="6" y="43" width="221" height="61" fill="#fff"/>
<rect x="6" y="45" width="52" height="24" fill="#0000a4"/>
<rect x="7" y="46" width="50" height="23" fill="url(#gbtn)"/>
<rect x="173" y="45" width="52" height="24" fill="#0000a4"/>
<rect x="174" y="46" width="50" height="23" fill="url(#gbtn)"/>
<rect x="6" y="69" width="109" height="33" fill="#0000a4"/>
<rect x="7" y="70" width="107" height="31" fill="url(#gprice)"/>
<rect x="117" y="69" width="108" height="33" fill="#0000a4"/>
<rect x="118" y="70" width="106" height="31" fill="url(#gprice)"/>
<rect x="7" y="69" width="50" height="1" fill="#3c3ce0"/>
<rect x="174" y="69" width="50" height="1" fill="#3c3ce0"/>
<rect x="10" y="68" width="44" height="1" fill="#000078"/>
<rect x="10" y="69" width="44" height="1" fill="#8c8cf4"/>
<rect x="177" y="68" width="44" height="1" fill="#000078"/>
<rect x="177" y="69" width="44" height="1" fill="#8c8cf4"/>
<rect x="60" y="45" width="111" height="22" fill="#a9acb2"/>
<rect x="61" y="46" width="109" height="20" fill="#fff"/>
<rect x="62" y="47" width="19" height="7" fill="#efefef"/>
<rect x="62" y="54" width="19" height="12" fill="url(#gspin)"/>
<rect x="150" y="47" width="19" height="7" fill="#efefef"/>
<rect x="150" y="54" width="19" height="12" fill="url(#gspin)"/>
<rect x="81" y="46" width="1" height="20" fill="#a9acb2"/>
<rect x="149" y="46" width="1" height="20" fill="#a9acb2"/>
</g>
<path d="M68 54 L74 54 L71 57.5 Z" fill="#4560c8"/>
<path d="M156.5 57.5 L162.5 57.5 L159.5 54 Z" fill="#4560c8"/>
<text x="18.8" y="61" font-size="12.5" fill="#fff" textLength="24.8" lengthAdjust="spacingAndGlyphs">SELL</text>
<text x="186.4" y="61" font-size="12.5" fill="#fff" textLength="23.8" lengthAdjust="spacingAndGlyphs">BUY</text>
<text x="122.2" y="60" font-size="12.5" fill="#000" textLength="23.2" lengthAdjust="spacingAndGlyphs">3.00</text>
<text x="26.4" y="97" font-size="11.5" fill="#fff" textLength="23.4" lengthAdjust="spacingAndGlyphs" font-weight="bold">6.36</text>
<text x="135.8" y="97" font-size="11.5" fill="#fff" textLength="23.4" lengthAdjust="spacingAndGlyphs" font-weight="bold">6.37</text>
<text x="53" y="97.8" font-size="36.5" fill="#fff" textLength="36" lengthAdjust="spacingAndGlyphs" stroke="url(#gprice)" stroke-width="0.7">98</text>
<text x="164" y="97.8" font-size="36.5" fill="#fff" textLength="36" lengthAdjust="spacingAndGlyphs" stroke="url(#gprice)" stroke-width="0.7">39</text>
<text x="94" y="81" font-size="11.5" fill="#fff" font-weight="bold">9</text>
<text x="204" y="81" font-size="11.5" fill="#fff" font-weight="bold">4</text>
<g shape-rendering="crispEdges">
<rect x="0" y="569" width="1209" height="1" fill="#e2e2e2"/>
<rect x="0" y="570" width="1209" height="1" fill="#fff"/>
<rect x="0" y="571" width="1209" height="1" fill="#0a0a0a"/>
<rect x="0" y="572" width="1209" height="20" fill="#f0f0f0"/>
<rect x="0" y="592" width="1209" height="2" fill="#f7f7f7"/>
<rect x="0" y="594" width="1209" height="1" fill="#a0a0a0"/>
<rect x="0" y="595" width="1209" height="1" fill="#b4b4b4"/>
<rect x="524" y="571" width="112" height="19" fill="#000"/>
<rect x="525" y="571" width="110" height="18" fill="#fff"/>
</g>
<text x="15.5" y="585.7" font-size="12.7" fill="#6a6a6a" textLength="76.9" lengthAdjust="spacingAndGlyphs">USDX,Weekly</text>
<text x="115.4" y="585.7" font-size="12.7" fill="#6a6a6a" textLength="84.6" lengthAdjust="spacingAndGlyphs">EURUSD-,Daily</text>
<text x="222.3" y="585.7" font-size="12.7" fill="#6a6a6a" textLength="86.8" lengthAdjust="spacingAndGlyphs">AUDUSD-,Daily</text>
<text x="332.4" y="585.7" font-size="12.7" fill="#6a6a6a" textLength="71.5" lengthAdjust="spacingAndGlyphs">USDCHF-,H4</text>
<text x="427.2" y="585.7" font-size="12.7" fill="#6a6a6a" textLength="85.4" lengthAdjust="spacingAndGlyphs">USDCAD-,Daily</text>
<text x="647.3" y="585.7" font-size="12.7" fill="#6a6a6a" textLength="86.0" lengthAdjust="spacingAndGlyphs">XAUUSD-,Daily</text>
<text x="755.1" y="585.7" font-size="12.7" fill="#6a6a6a" textLength="56.9" lengthAdjust="spacingAndGlyphs">UKOil-,H1</text>
<text x="835.2" y="585.7" font-size="12.7" fill="#6a6a6a" textLength="78.1" lengthAdjust="spacingAndGlyphs">DJ30-,Weekly</text>
<text x="935.5" y="585.7" font-size="12.7" fill="#6a6a6a" textLength="73.4" lengthAdjust="spacingAndGlyphs">UK100-,Daily</text>
<text x="536.4" y="585.7" font-size="12.7" fill="#000" textLength="87.3" lengthAdjust="spacingAndGlyphs" stroke="#000" stroke-width="0.1">USDCNH-,Daily</text>
<g shape-rendering="crispEdges">
<rect x="104" y="574" width="1" height="14" fill="#7a7a7a"/>
<rect x="212" y="574" width="1" height="14" fill="#7a7a7a"/>
<rect x="320" y="574" width="1" height="14" fill="#7a7a7a"/>
<rect x="416" y="574" width="1" height="14" fill="#7a7a7a"/>
<rect x="744" y="574" width="1" height="14" fill="#7a7a7a"/>
<rect x="824" y="574" width="1" height="14" fill="#7a7a7a"/>
<rect x="924" y="574" width="1" height="14" fill="#7a7a7a"/>
<rect x="1020" y="574" width="1" height="14" fill="#7a7a7a"/>
</g>
<path d="M1184 577 L1184 584 L1180.5 580.5 Z" fill="#808080"/>
<path d="M1200 577 L1200 584 L1203.5 580.5 Z" fill="#808080"/>
</svg>
</body></html>
